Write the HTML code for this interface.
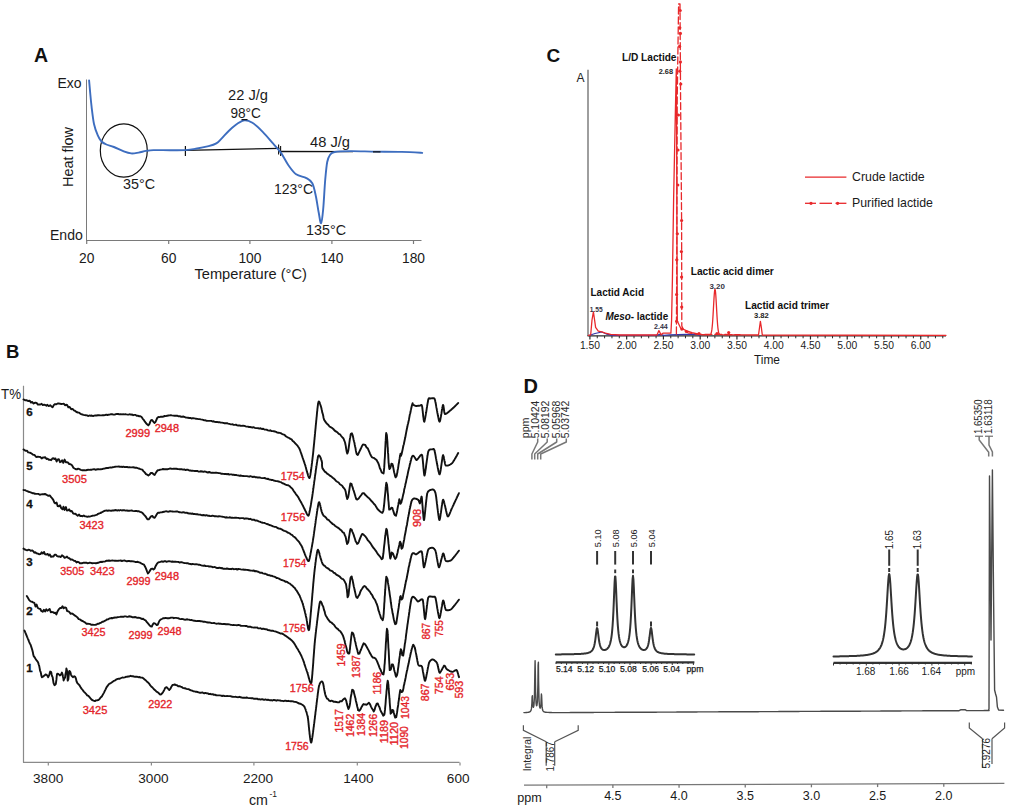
<!DOCTYPE html>
<html><head><meta charset="utf-8"><style>
html,body{margin:0;padding:0;background:#fff;width:1010px;height:808px;overflow:hidden}
svg{display:block}
text{font-family:"Liberation Sans",sans-serif}
</style></head><body>
<svg width="1010" height="808" viewBox="0 0 1010 808">
<rect width="1010" height="808" fill="#fff"/>
<text x="34" y="62.3" font-size="19.5" text-anchor="start" fill="#111" font-weight="bold" >A</text>
<line x1="86.5" y1="79.5" x2="86.5" y2="240.5" stroke="#7a7a7a" stroke-width="1" />
<line x1="86" y1="240.5" x2="421.5" y2="240.5" stroke="#7a7a7a" stroke-width="1" />
<line x1="86.7" y1="240.5" x2="86.7" y2="244" stroke="#7a7a7a" stroke-width="1.2" />
<line x1="168.7" y1="240.5" x2="168.7" y2="244" stroke="#7a7a7a" stroke-width="1.2" />
<line x1="249.9" y1="240.5" x2="249.9" y2="244" stroke="#7a7a7a" stroke-width="1.2" />
<line x1="331.9" y1="240.5" x2="331.9" y2="244" stroke="#7a7a7a" stroke-width="1.2" />
<line x1="413.5" y1="240.5" x2="413.5" y2="244" stroke="#7a7a7a" stroke-width="1.2" />
<text x="86.7" y="263.2" font-size="13.8" text-anchor="middle" fill="#1a1a1a" font-weight="normal" >20</text>
<text x="168.7" y="263.2" font-size="13.8" text-anchor="middle" fill="#1a1a1a" font-weight="normal" >60</text>
<text x="249.9" y="263.2" font-size="13.8" text-anchor="middle" fill="#1a1a1a" font-weight="normal" >100</text>
<text x="331.9" y="263.2" font-size="13.8" text-anchor="middle" fill="#1a1a1a" font-weight="normal" >140</text>
<text x="413.5" y="263.2" font-size="13.8" text-anchor="middle" fill="#1a1a1a" font-weight="normal" >180</text>
<text x="250.7" y="279" font-size="14.2" text-anchor="middle" fill="#1a1a1a" font-weight="normal" textLength="112.5" lengthAdjust="spacingAndGlyphs" >Temperature (°C)</text>
<text x="81.5" y="88" font-size="14" text-anchor="end" fill="#1a1a1a" font-weight="normal" textLength="24" lengthAdjust="spacingAndGlyphs" >Exo</text>
<text x="82.8" y="239.6" font-size="14" text-anchor="end" fill="#1a1a1a" font-weight="normal" textLength="32.8" lengthAdjust="spacingAndGlyphs" >Endo</text>
<text x="72.8" y="157" font-size="14.2" text-anchor="middle" fill="#1a1a1a" font-weight="normal" textLength="60" lengthAdjust="spacingAndGlyphs" transform="rotate(-90 72.8 157)" >Heat flow</text>
<text x="248" y="99.5" font-size="14" text-anchor="middle" fill="#1a1a1a" font-weight="normal" textLength="40" lengthAdjust="spacingAndGlyphs" >22 J/g</text>
<text x="245.7" y="117.6" font-size="14" text-anchor="middle" fill="#1a1a1a" font-weight="normal" textLength="30.5" lengthAdjust="spacingAndGlyphs" >98°C</text>
<text x="330" y="146.7" font-size="14" text-anchor="middle" fill="#1a1a1a" font-weight="normal" textLength="40" lengthAdjust="spacingAndGlyphs" >48 J/g</text>
<text x="293.5" y="193.5" font-size="14" text-anchor="middle" fill="#1a1a1a" font-weight="normal" textLength="39" lengthAdjust="spacingAndGlyphs" >123°C</text>
<text x="139" y="188.5" font-size="14" text-anchor="middle" fill="#1a1a1a" font-weight="normal" textLength="32" lengthAdjust="spacingAndGlyphs" >35°C</text>
<text x="326" y="234.7" font-size="14" text-anchor="middle" fill="#1a1a1a" font-weight="normal" textLength="40" lengthAdjust="spacingAndGlyphs" >135°C</text>
<ellipse cx="123.8" cy="150.5" rx="23.5" ry="26.6" fill="none" stroke="#111" stroke-width="1.2"/>
<line x1="185.4" y1="150.3" x2="279.5" y2="148.3" stroke="#111" stroke-width="1.3" />
<line x1="279.5" y1="151.5" x2="353" y2="151.6" stroke="#111" stroke-width="1.3" />
<line x1="185.4" y1="146" x2="185.4" y2="156" stroke="#111" stroke-width="1.2" />
<line x1="278.6" y1="144.5" x2="278.6" y2="154.5" stroke="#111" stroke-width="1.1" />
<line x1="280.6" y1="146" x2="280.6" y2="156" stroke="#111" stroke-width="1.1" />
<path d="M89.1,80.5 C89.3,82.8 89.9,89.6 90.3,94.0 C90.7,98.4 91.0,101.8 91.6,106.8 C92.2,111.8 93.0,119.2 94.0,124.0 C95.0,128.8 96.5,132.4 97.8,135.3 C99.0,138.2 100.1,140.0 101.5,141.5 C102.9,143.0 104.3,143.6 106.4,144.5 C108.5,145.4 111.0,145.8 113.9,147.0 C116.8,148.2 120.9,150.3 123.8,151.4 C126.7,152.5 128.7,153.2 131.2,153.4 C133.7,153.6 136.1,153.0 138.6,152.6 C141.1,152.2 143.5,151.3 146.0,150.9 C148.5,150.5 149.5,150.2 153.5,150.1 C157.5,150.0 164.7,150.2 170.0,150.2 C175.3,150.2 181.3,150.3 185.6,150.1 C189.9,149.9 191.9,149.5 195.7,148.8 C199.5,148.2 205.2,147.1 208.6,146.2 C212.0,145.3 214.2,144.7 216.3,143.4 C218.5,142.1 219.3,140.8 221.5,138.6 C223.7,136.4 226.6,132.9 229.2,130.5 C231.8,128.1 234.3,125.7 236.9,124.0 C239.5,122.3 242.0,120.4 244.6,120.2 C247.2,120.0 249.4,120.9 252.4,122.8 C255.4,124.7 259.3,128.4 262.7,131.8 C266.1,135.2 270.0,140.0 273.0,143.4 C276.0,146.8 278.1,148.8 280.7,152.4 C283.3,156.0 285.8,161.6 288.4,165.2 C291.0,168.8 293.1,172.0 296.1,174.2 C299.1,176.3 303.7,176.6 306.4,178.1 C309.1,179.6 310.7,180.3 312.3,183.3 C313.9,186.3 314.8,191.2 315.8,196.0 C316.9,200.8 317.7,207.5 318.6,212.0 C319.5,216.5 320.3,223.7 321.1,223.2 C321.9,222.7 322.5,216.2 323.2,209.0 C323.9,201.8 324.5,187.8 325.2,180.0 C325.9,172.2 326.4,166.2 327.2,162.0 C328.0,157.8 328.8,156.7 330.0,155.0 C331.2,153.3 331.3,152.7 334.7,152.0 C338.1,151.3 343.3,151.2 350.2,151.1 C357.1,151.0 367.3,151.5 375.9,151.6 C384.5,151.7 394.0,151.7 401.7,151.9 C409.4,152.1 418.8,152.7 422.2,152.9" fill="none" stroke="#3d6dbf" stroke-width="1.9" stroke-linejoin="round" stroke-linecap="round" />
<line x1="241.5" y1="119.6" x2="247.5" y2="119.6" stroke="#111" stroke-width="1.2" />
<line x1="373" y1="151.8" x2="380.5" y2="151.9" stroke="#111" stroke-width="1.3" />
<text x="546.5" y="61.5" font-size="19" text-anchor="start" fill="#111" font-weight="bold" >C</text>
<line x1="588" y1="69.8" x2="588" y2="336" stroke="#6a6a6a" stroke-width="1.3" />
<text x="580.5" y="81.8" font-size="12" text-anchor="middle" fill="#222" font-weight="normal" >A</text>
<line x1="587.5" y1="335.8" x2="946" y2="335.8" stroke="#2a2a2a" stroke-width="1.3" />
<line x1="589.9" y1="335.8" x2="589.9" y2="339.5" stroke="#2a2a2a" stroke-width="1.2" />
<text x="589.9" y="348.8" font-size="10.3" text-anchor="middle" fill="#1a1a1a" font-weight="normal" >1.50</text>
<line x1="626.66" y1="335.8" x2="626.66" y2="339.5" stroke="#2a2a2a" stroke-width="1.2" />
<text x="626.66" y="348.8" font-size="10.3" text-anchor="middle" fill="#1a1a1a" font-weight="normal" >2.00</text>
<line x1="663.42" y1="335.8" x2="663.42" y2="339.5" stroke="#2a2a2a" stroke-width="1.2" />
<text x="663.42" y="348.8" font-size="10.3" text-anchor="middle" fill="#1a1a1a" font-weight="normal" >2.50</text>
<line x1="700.18" y1="335.8" x2="700.18" y2="339.5" stroke="#2a2a2a" stroke-width="1.2" />
<text x="700.18" y="348.8" font-size="10.3" text-anchor="middle" fill="#1a1a1a" font-weight="normal" >3.00</text>
<line x1="736.9399999999999" y1="335.8" x2="736.9399999999999" y2="339.5" stroke="#2a2a2a" stroke-width="1.2" />
<text x="736.9399999999999" y="348.8" font-size="10.3" text-anchor="middle" fill="#1a1a1a" font-weight="normal" >3.50</text>
<line x1="773.6999999999999" y1="335.8" x2="773.6999999999999" y2="339.5" stroke="#2a2a2a" stroke-width="1.2" />
<text x="773.6999999999999" y="348.8" font-size="10.3" text-anchor="middle" fill="#1a1a1a" font-weight="normal" >4.00</text>
<line x1="810.46" y1="335.8" x2="810.46" y2="339.5" stroke="#2a2a2a" stroke-width="1.2" />
<text x="810.46" y="348.8" font-size="10.3" text-anchor="middle" fill="#1a1a1a" font-weight="normal" >4.50</text>
<line x1="847.22" y1="335.8" x2="847.22" y2="339.5" stroke="#2a2a2a" stroke-width="1.2" />
<text x="847.22" y="348.8" font-size="10.3" text-anchor="middle" fill="#1a1a1a" font-weight="normal" >5.00</text>
<line x1="883.98" y1="335.8" x2="883.98" y2="339.5" stroke="#2a2a2a" stroke-width="1.2" />
<text x="883.98" y="348.8" font-size="10.3" text-anchor="middle" fill="#1a1a1a" font-weight="normal" >5.50</text>
<line x1="920.74" y1="335.8" x2="920.74" y2="339.5" stroke="#2a2a2a" stroke-width="1.2" />
<text x="920.74" y="348.8" font-size="10.3" text-anchor="middle" fill="#1a1a1a" font-weight="normal" >6.00</text>
<line x1="597.252" y1="335.8" x2="597.252" y2="338.3" stroke="#2a2a2a" stroke-width="1" />
<line x1="604.6039999999999" y1="335.8" x2="604.6039999999999" y2="338.3" stroke="#2a2a2a" stroke-width="1" />
<line x1="611.956" y1="335.8" x2="611.956" y2="338.3" stroke="#2a2a2a" stroke-width="1" />
<line x1="619.308" y1="335.8" x2="619.308" y2="338.3" stroke="#2a2a2a" stroke-width="1" />
<line x1="634.012" y1="335.8" x2="634.012" y2="338.3" stroke="#2a2a2a" stroke-width="1" />
<line x1="641.364" y1="335.8" x2="641.364" y2="338.3" stroke="#2a2a2a" stroke-width="1" />
<line x1="648.716" y1="335.8" x2="648.716" y2="338.3" stroke="#2a2a2a" stroke-width="1" />
<line x1="656.068" y1="335.8" x2="656.068" y2="338.3" stroke="#2a2a2a" stroke-width="1" />
<line x1="670.7719999999999" y1="335.8" x2="670.7719999999999" y2="338.3" stroke="#2a2a2a" stroke-width="1" />
<line x1="678.124" y1="335.8" x2="678.124" y2="338.3" stroke="#2a2a2a" stroke-width="1" />
<line x1="685.476" y1="335.8" x2="685.476" y2="338.3" stroke="#2a2a2a" stroke-width="1" />
<line x1="692.828" y1="335.8" x2="692.828" y2="338.3" stroke="#2a2a2a" stroke-width="1" />
<line x1="707.5319999999999" y1="335.8" x2="707.5319999999999" y2="338.3" stroke="#2a2a2a" stroke-width="1" />
<line x1="714.884" y1="335.8" x2="714.884" y2="338.3" stroke="#2a2a2a" stroke-width="1" />
<line x1="722.236" y1="335.8" x2="722.236" y2="338.3" stroke="#2a2a2a" stroke-width="1" />
<line x1="729.588" y1="335.8" x2="729.588" y2="338.3" stroke="#2a2a2a" stroke-width="1" />
<line x1="744.2919999999999" y1="335.8" x2="744.2919999999999" y2="338.3" stroke="#2a2a2a" stroke-width="1" />
<line x1="751.644" y1="335.8" x2="751.644" y2="338.3" stroke="#2a2a2a" stroke-width="1" />
<line x1="758.996" y1="335.8" x2="758.996" y2="338.3" stroke="#2a2a2a" stroke-width="1" />
<line x1="766.348" y1="335.8" x2="766.348" y2="338.3" stroke="#2a2a2a" stroke-width="1" />
<line x1="781.0519999999999" y1="335.8" x2="781.0519999999999" y2="338.3" stroke="#2a2a2a" stroke-width="1" />
<line x1="788.404" y1="335.8" x2="788.404" y2="338.3" stroke="#2a2a2a" stroke-width="1" />
<line x1="795.756" y1="335.8" x2="795.756" y2="338.3" stroke="#2a2a2a" stroke-width="1" />
<line x1="803.108" y1="335.8" x2="803.108" y2="338.3" stroke="#2a2a2a" stroke-width="1" />
<line x1="817.8119999999999" y1="335.8" x2="817.8119999999999" y2="338.3" stroke="#2a2a2a" stroke-width="1" />
<line x1="825.164" y1="335.8" x2="825.164" y2="338.3" stroke="#2a2a2a" stroke-width="1" />
<line x1="832.516" y1="335.8" x2="832.516" y2="338.3" stroke="#2a2a2a" stroke-width="1" />
<line x1="839.8679999999999" y1="335.8" x2="839.8679999999999" y2="338.3" stroke="#2a2a2a" stroke-width="1" />
<line x1="854.5719999999999" y1="335.8" x2="854.5719999999999" y2="338.3" stroke="#2a2a2a" stroke-width="1" />
<line x1="861.924" y1="335.8" x2="861.924" y2="338.3" stroke="#2a2a2a" stroke-width="1" />
<line x1="869.276" y1="335.8" x2="869.276" y2="338.3" stroke="#2a2a2a" stroke-width="1" />
<line x1="876.6279999999999" y1="335.8" x2="876.6279999999999" y2="338.3" stroke="#2a2a2a" stroke-width="1" />
<line x1="891.3319999999999" y1="335.8" x2="891.3319999999999" y2="338.3" stroke="#2a2a2a" stroke-width="1" />
<line x1="898.684" y1="335.8" x2="898.684" y2="338.3" stroke="#2a2a2a" stroke-width="1" />
<line x1="906.036" y1="335.8" x2="906.036" y2="338.3" stroke="#2a2a2a" stroke-width="1" />
<line x1="913.3879999999999" y1="335.8" x2="913.3879999999999" y2="338.3" stroke="#2a2a2a" stroke-width="1" />
<line x1="928.0919999999999" y1="335.8" x2="928.0919999999999" y2="338.3" stroke="#2a2a2a" stroke-width="1" />
<line x1="935.444" y1="335.8" x2="935.444" y2="338.3" stroke="#2a2a2a" stroke-width="1" />
<line x1="942.796" y1="335.8" x2="942.796" y2="338.3" stroke="#2a2a2a" stroke-width="1" />
<text x="767" y="363.9" font-size="12.5" text-anchor="middle" fill="#1a1a1a" font-weight="normal" textLength="26" lengthAdjust="spacingAndGlyphs" >Time</text>
<polyline points="589.0,335.5 595.0,333.5 601.8,332.0 606.0,333.8 612.0,335.3 656.0,335.3 660.0,334.3 664.0,335.3 669.5,334.8 695.5,334.2 700.0,335.3" fill="none" stroke="#3636a8" stroke-width="1.2" stroke-linejoin="round" stroke-linecap="round" />
<polyline points="588.5,335.3 590.7,334.8 592.0,320.0 593.4,311.8 594.6,320.0 595.6,327.4 598.3,331.2 601.8,331.9 605.4,333.2 610.7,334.3 619.7,335.0 655.3,335.0 657.1,334.8 658.9,330.6 661.1,334.8 662.9,333.2 670.9,333.2 671.6,320.0 672.4,280.0 673.6,200.0 675.2,120.0 676.3,69.0 676.6,130.0 677.0,250.0 677.3,321.0 680.7,328.2 686.8,330.8 692.0,332.6 700.0,334.5 708.0,334.8 708.3,334.8 708.6,334.8 708.9,334.8 709.2,334.8 709.5,334.7 709.8,334.7 710.1,334.6 710.4,334.4 710.7,334.1 711.0,333.5 711.3,332.6 711.6,331.3 711.9,329.4 712.2,326.8 712.5,323.5 712.8,319.3 713.1,314.4 713.4,309.0 713.7,303.5 714.0,298.4 714.3,294.0 714.6,290.9 714.9,289.4 715.2,289.7 715.5,291.8 715.8,295.3 716.1,300.0 716.4,305.4 716.7,310.9 717.0,316.1 717.3,320.8 717.6,324.7 717.9,327.8 718.2,330.1 718.5,331.8 718.8,333.0 719.1,333.7 719.4,334.2 719.7,334.5 720.0,334.6 758.5,335.0 759.6,327.0 760.4,321.3 761.3,327.0 762.3,335.0 946.0,335.3" fill="none" stroke="#e8282b" stroke-width="1.3" stroke-linejoin="round" stroke-linecap="round" />
<polyline points="676.4,334.0 676.8,250.0 677.2,100.0 678.6,4.0 680.0,4.0 680.6,100.0 681.6,220.0 681.8,326.0 684.0,330.5 688.0,332.8 699.0,334.3 740.0,334.6" fill="none" stroke="#e8282b" stroke-width="1.3" stroke-linejoin="round" stroke-linecap="round" stroke-dasharray="7,3"/>
<circle cx="677.3" cy="233.8" r="1.6" fill="#e8282b"/>
<circle cx="676.8" cy="259.8" r="1.6" fill="#e8282b"/>
<circle cx="676.6" cy="294.5" r="1.6" fill="#e8282b"/>
<circle cx="676.6" cy="321.3" r="1.6" fill="#e8282b"/>
<circle cx="681.6" cy="220.5" r="1.6" fill="#e8282b"/>
<circle cx="681.4" cy="251.6" r="1.6" fill="#e8282b"/>
<circle cx="681.6" cy="277.1" r="1.6" fill="#e8282b"/>
<circle cx="681.7" cy="307.1" r="1.6" fill="#e8282b"/>
<circle cx="681.8" cy="329.1" r="1.6" fill="#e8282b"/>
<circle cx="686.4" cy="331.5" r="1.6" fill="#e8282b"/>
<circle cx="699" cy="333.6" r="1.6" fill="#e8282b"/>
<circle cx="717" cy="333.6" r="1.6" fill="#e8282b"/>
<circle cx="728.7" cy="332.6" r="1.6" fill="#e8282b"/>
<circle cx="680.2" cy="10.5" r="1.6" fill="#e8282b"/>
<circle cx="679.8" cy="27.8" r="1.6" fill="#e8282b"/>
<circle cx="680.4" cy="33.4" r="1.6" fill="#e8282b"/>
<circle cx="679.6" cy="46.4" r="1.6" fill="#e8282b"/>
<circle cx="680.4" cy="61.9" r="1.6" fill="#e8282b"/>
<circle cx="679.8" cy="71.2" r="1.6" fill="#e8282b"/>
<circle cx="680.8" cy="84" r="1.6" fill="#e8282b"/>
<circle cx="678.4" cy="115" r="1.6" fill="#e8282b"/>
<circle cx="678.0" cy="150" r="1.6" fill="#e8282b"/>
<circle cx="677.8" cy="185" r="1.6" fill="#e8282b"/>
<text x="676.5" y="61.2" font-size="11.5" text-anchor="end" fill="#111" font-weight="bold" textLength="54.5" lengthAdjust="spacingAndGlyphs" >L/D Lactide</text>
<text x="673" y="74.3" font-size="7.4" text-anchor="end" fill="#222" font-weight="bold" textLength="14.3" lengthAdjust="spacingAndGlyphs" >2.68</text>
<text x="590.5" y="295.6" font-size="10.3" text-anchor="start" fill="#111" font-weight="bold" textLength="53.5" lengthAdjust="spacingAndGlyphs" >Lactid Acid</text>
<text x="589.8" y="311.6" font-size="7.4" text-anchor="start" fill="#334" font-weight="bold" textLength="12.9" lengthAdjust="spacingAndGlyphs" >1.55</text>
<text x="605.4" y="319.5" font-size="10.3" text-anchor="start" fill="#111" font-weight="bold" textLength="62.8" lengthAdjust="spacingAndGlyphs" ><tspan font-style="italic">Meso</tspan>- lactide</text>
<text x="654" y="328.9" font-size="7.4" text-anchor="start" fill="#334" font-weight="bold" textLength="13.8" lengthAdjust="spacingAndGlyphs" >2.44</text>
<text x="690.7" y="275.2" font-size="10.3" text-anchor="start" fill="#111" font-weight="bold" textLength="83.1" lengthAdjust="spacingAndGlyphs" >Lactic acid dimer</text>
<text x="709.4" y="288.5" font-size="7.4" text-anchor="start" fill="#334" font-weight="bold" textLength="15.5" lengthAdjust="spacingAndGlyphs" >3.20</text>
<text x="745" y="308.8" font-size="10.3" text-anchor="start" fill="#111" font-weight="bold" textLength="84.3" lengthAdjust="spacingAndGlyphs" >Lactid acid trimer</text>
<text x="754" y="318.4" font-size="7.4" text-anchor="start" fill="#222" font-weight="bold" textLength="14.8" lengthAdjust="spacingAndGlyphs" >3.82</text>
<line x1="805" y1="177.2" x2="846.4" y2="177.2" stroke="#e8282b" stroke-width="1.3" />
<text x="852" y="181.3" font-size="12.4" text-anchor="start" fill="#1a1a1a" font-weight="normal" textLength="72.7" lengthAdjust="spacingAndGlyphs" >Crude lactide</text>
<line x1="805" y1="203.3" x2="816" y2="203.3" stroke="#e8282b" stroke-width="1.3" />
<line x1="819.5" y1="203.3" x2="832" y2="203.3" stroke="#e8282b" stroke-width="1.3" />
<line x1="835.5" y1="203.3" x2="846.4" y2="203.3" stroke="#e8282b" stroke-width="1.3" />
<circle cx="811" cy="203.3" r="1.6" fill="#e8282b"/>
<circle cx="837.6" cy="203.3" r="1.6" fill="#e8282b"/>
<text x="852" y="207.3" font-size="12.4" text-anchor="start" fill="#1a1a1a" font-weight="normal" textLength="81" lengthAdjust="spacingAndGlyphs" >Purified lactide</text>
<text x="6" y="357.8" font-size="18.5" text-anchor="start" fill="#111" font-weight="bold" >B</text>
<line x1="23.5" y1="385.8" x2="23.5" y2="762.5" stroke="#8a8a8a" stroke-width="1.2" />
<line x1="23" y1="762.4" x2="459.5" y2="762.4" stroke="#8a8a8a" stroke-width="1.2" />
<line x1="48.3" y1="762.4" x2="48.3" y2="765.6" stroke="#8a8a8a" stroke-width="1.2" />
<text x="48.2" y="783.3" font-size="13.6" text-anchor="middle" fill="#1a1a1a" font-weight="normal" >3800</text>
<line x1="151.4" y1="762.4" x2="151.4" y2="765.6" stroke="#8a8a8a" stroke-width="1.2" />
<text x="153.4" y="783.3" font-size="13.6" text-anchor="middle" fill="#1a1a1a" font-weight="normal" >3000</text>
<line x1="253.9" y1="762.4" x2="253.9" y2="765.6" stroke="#8a8a8a" stroke-width="1.2" />
<text x="258" y="783.3" font-size="13.6" text-anchor="middle" fill="#1a1a1a" font-weight="normal" >2200</text>
<line x1="357.3" y1="762.4" x2="357.3" y2="765.6" stroke="#8a8a8a" stroke-width="1.2" />
<text x="358.4" y="783.3" font-size="13.6" text-anchor="middle" fill="#1a1a1a" font-weight="normal" >1400</text>
<line x1="460" y1="762.4" x2="460" y2="765.6" stroke="#8a8a8a" stroke-width="1.2" />
<text x="458.2" y="783.3" font-size="13.6" text-anchor="middle" fill="#1a1a1a" font-weight="normal" >600</text>
<text x="11" y="399.3" font-size="14.3" text-anchor="middle" fill="#1a1a1a" font-weight="normal" textLength="20" lengthAdjust="spacingAndGlyphs" >T%</text>
<text x="249" y="805" font-size="14" text-anchor="start" fill="#1a1a1a" font-weight="normal" textLength="19" lengthAdjust="spacingAndGlyphs" >cm</text>
<text x="269.5" y="797" font-size="8.5" text-anchor="start" fill="#1a1a1a" font-weight="normal" >-1</text>
<polyline points="23.5,399.4 23.7,399.5 23.9,399.5 25.0,400.2 26.3,400.1 27.4,400.8 28.6,401.0 29.8,400.8 31.0,402.6 32.3,401.9 33.4,403.6 34.5,403.0 35.5,402.6 36.8,403.2 37.9,404.6 39.3,404.5 40.4,404.5 41.6,403.8 42.8,405.1 44.1,404.6 45.2,405.0 46.4,405.7 47.4,404.8 48.7,406.1 50.2,405.2 51.4,406.4 52.6,407.3 53.9,404.9 55.0,404.1 56.4,404.3 57.7,403.5 58.9,403.4 60.1,403.8 61.5,404.0 62.7,403.9 63.9,403.7 65.0,405.3 66.0,404.8 67.1,405.0 68.3,407.2 69.7,407.0 71.2,409.2 72.6,408.9 73.9,410.3 75.2,410.9 76.5,412.0 78.0,412.5 79.1,412.6 80.2,413.7 81.2,414.2 82.3,414.4 83.3,414.9 84.7,415.1 85.7,415.2 86.9,415.4 88.4,416.0 89.5,415.5 90.7,415.7 91.8,415.5 93.1,416.1 94.2,415.7 95.4,415.4 96.5,415.5 97.9,415.2 99.0,415.3 100.2,415.4 101.7,415.4 102.8,415.1 103.9,415.2 105.0,415.1 106.2,414.6 107.4,415.0 108.5,414.7 109.6,414.6 111.0,414.2 112.0,414.1 113.3,414.6 114.7,414.6 115.8,414.1 117.0,414.0 118.2,414.0 119.4,414.4 120.7,414.1 121.9,414.4 123.1,414.3 124.3,414.4 125.4,414.2 126.4,414.4 127.7,414.6 128.7,414.6 130.0,414.2 131.0,414.8 132.1,414.4 133.2,415.2 134.4,414.9 135.6,414.9 136.7,415.7 137.8,415.7 139.2,416.3 140.4,416.2 141.6,417.0 142.6,418.6 143.7,419.8 144.9,421.7 145.9,423.0 147.1,424.3 148.3,425.4 149.5,423.9 150.3,421.6 151.1,420.2 152.1,420.0 153.3,421.6 154.4,422.9 155.5,422.0 156.2,420.3 157.2,418.0 158.4,417.0 159.6,417.1 160.9,416.7 162.4,416.7 163.5,416.5 164.7,416.0 165.9,416.1 167.2,415.7 168.4,415.5 169.6,415.4 170.8,415.2 171.8,415.4 173.3,415.6 174.6,415.8 175.7,415.6 177.1,415.7 178.6,416.4 179.7,416.1 180.8,416.7 182.0,416.8 183.1,416.5 184.3,416.9 185.6,417.5 186.8,417.6 188.0,417.8 189.2,418.0 190.4,417.9 191.5,418.5 192.6,418.1 193.7,418.3 194.7,418.4 196.1,418.8 197.3,418.9 198.3,419.1 199.5,419.1 200.8,419.4 202.2,419.6 203.2,419.9 204.3,420.4 205.4,420.3 206.6,420.8 207.7,420.9 208.9,420.9 210.1,420.9 211.3,420.9 212.5,421.5 213.6,421.3 214.8,421.9 215.9,422.0 217.0,421.9 218.0,422.2 219.5,422.2 220.7,422.6 221.9,422.6 223.2,422.9 224.5,423.2 226.0,423.1 227.1,423.2 228.1,423.6 229.2,423.9 230.4,424.2 231.5,424.4 232.6,424.3 233.7,424.9 234.8,424.9 235.9,424.6 236.9,425.3 238.3,425.5 239.6,425.4 240.6,425.8 241.7,425.9 243.0,425.6 244.5,425.9 245.6,426.4 246.7,426.6 247.8,426.6 249.0,427.0 250.2,427.0 251.4,427.3 252.6,427.5 253.7,427.2 254.9,427.9 256.1,428.1 257.2,428.1 258.2,428.2 259.2,428.6 260.6,428.3 261.8,429.0 263.2,428.8 264.4,429.5 265.9,429.6 266.9,429.8 268.0,430.4 269.2,430.7 270.3,430.3 271.5,431.1 272.7,431.1 273.8,431.3 274.9,431.5 276.0,431.8 277.1,432.6 278.5,432.7 279.7,432.9 280.7,433.1 281.8,433.8 283.1,434.4 284.6,434.9 285.6,436.1 286.7,436.8 287.7,437.4 289.1,438.0 290.4,438.9 291.6,439.4 292.7,441.0 293.7,441.6 294.9,443.0 296.0,444.1 297.2,445.3 298.2,446.8 299.2,448.2 299.9,449.8 300.1,450.4 300.3,450.8 300.5,451.3 300.6,451.8 300.8,452.3 301.0,452.9 301.2,453.4 301.4,454.0 301.6,454.6 301.8,455.2 302.0,455.8 302.2,456.4 302.4,457.0 302.6,457.6 302.8,458.1 303.0,458.7 303.2,459.3 303.4,459.9 303.6,460.4 303.8,460.9 303.9,461.5 304.1,461.9 304.3,462.4 304.4,462.8 304.5,463.3 304.7,463.6 304.8,464.0 304.9,464.3 305.0,464.7 305.2,465.1 305.3,465.6 305.5,466.1 305.6,466.7 305.8,467.3 306.0,467.9 306.1,468.6 306.3,469.3 306.5,470.0 306.7,470.7 306.9,471.4 307.1,472.0 307.3,472.7 307.5,473.4 307.7,474.0 307.9,474.7 308.0,475.2 308.2,475.8 308.4,476.3 308.6,476.7 308.7,477.1 308.9,477.5 309.0,477.7 309.2,477.9 309.3,478.0 309.4,478.1 309.5,478.0 309.6,477.9 309.6,477.8 309.7,477.6 309.7,477.5 309.8,477.3 309.9,477.0 309.9,476.7 310.0,476.4 310.1,476.1 310.2,475.7 310.2,475.4 310.3,475.0 310.4,474.5 310.5,474.1 310.5,473.6 310.6,473.1 310.7,472.6 310.8,472.1 310.9,471.5 310.9,471.0 311.0,470.4 311.1,469.8 311.2,469.3 311.3,468.7 311.3,468.0 311.4,467.4 311.5,466.8 311.6,466.2 311.7,465.5 311.7,464.9 311.8,464.3 311.9,463.6 312.0,463.0 312.1,462.3 312.1,461.7 312.2,461.1 312.3,460.5 312.4,459.8 312.4,459.2 312.5,458.6 312.6,458.0 312.6,457.4 312.7,456.8 312.8,456.3 312.8,455.7 312.9,455.2 312.9,455.0 313.0,454.7 313.0,454.4 313.0,454.1 313.1,453.8 313.1,453.5 313.1,453.2 313.2,452.8 313.2,452.4 313.2,452.1 313.3,451.7 313.3,451.2 313.4,450.8 313.4,450.4 313.4,449.9 313.5,449.5 313.5,449.0 313.6,448.5 313.6,448.0 313.7,447.5 313.7,447.0 313.8,446.5 313.8,446.0 313.9,445.4 313.9,444.9 314.0,444.3 314.1,443.8 314.1,443.2 314.2,442.6 314.2,442.0 314.3,441.4 314.3,440.8 314.4,440.2 314.5,439.6 314.5,439.0 314.6,438.4 314.6,437.7 314.7,437.1 314.8,436.5 314.8,435.8 314.9,435.2 314.9,434.5 315.0,433.9 315.1,433.2 315.1,432.6 315.2,431.9 315.2,431.3 315.3,430.6 315.4,430.0 315.4,429.3 315.5,428.6 315.6,428.0 315.6,427.3 315.7,426.7 315.7,426.0 315.8,425.4 315.9,424.7 315.9,424.1 316.0,423.4 316.1,422.8 316.1,422.2 316.2,421.5 316.2,420.9 316.3,420.3 316.4,419.7 316.4,419.1 316.5,418.5 316.5,417.9 316.6,417.3 316.7,416.7 316.7,416.1 316.8,415.5 316.8,415.0 316.9,414.4 316.9,413.9 317.0,413.3 317.0,412.8 317.1,412.3 317.1,411.8 317.2,411.3 317.3,410.8 317.3,410.3 317.3,409.9 317.4,409.4 317.4,409.0 317.5,408.5 317.5,408.1 317.6,407.7 317.6,407.3 317.7,407.0 317.7,406.6 317.7,406.3 317.8,405.9 317.8,405.6 317.9,405.3 317.9,405.0 317.9,404.8 318.0,404.5 318.0,404.3 318.0,404.0 318.0,403.8 318.1,403.7 318.1,403.5 318.5,401.9 318.9,401.4 319.3,401.8 319.7,402.7 320.1,404.0 320.5,405.2 320.8,406.2 320.9,406.4 321.0,406.7 321.1,407.0 321.2,407.4 321.3,407.8 321.4,408.3 321.5,408.8 321.6,409.3 321.8,409.9 321.9,410.5 322.3,412.7 322.8,414.0 323.2,415.7 323.6,418.0 324.1,419.8 325.0,421.1 326.2,422.9 327.3,424.0 328.4,425.0 329.5,426.5 330.6,427.1 331.8,427.8 333.3,429.0 334.7,430.6 336.2,431.6 337.6,432.6 338.8,433.9 340.0,434.3 341.2,436.0 342.2,437.2 343.5,438.5 344.4,440.8 345.1,442.8 345.4,444.3 345.8,446.1 346.1,448.3 346.5,450.7 346.8,452.1 347.3,453.6 347.9,452.1 348.3,450.6 348.6,448.4 348.8,447.0 349.1,444.9 349.4,442.5 349.7,440.4 350.0,438.2 350.3,437.2 350.6,434.8 350.9,433.8 351.9,433.3 352.5,434.8 353.1,437.1 353.6,439.7 354.0,441.3 354.4,442.7 354.7,444.5 355.1,446.5 355.5,448.1 355.9,450.9 356.3,452.6 356.8,454.2 357.8,455.0 358.7,453.2 359.5,451.4 360.4,449.5 361.3,447.7 362.0,446.0 363.0,444.5 364.0,444.6 365.3,445.0 366.5,447.4 367.7,448.2 368.5,450.1 369.3,451.9 370.1,453.8 370.9,455.5 371.8,457.1 372.8,457.6 374.3,458.2 375.3,459.1 376.6,460.0 377.5,461.8 378.2,462.9 379.0,465.1 379.8,468.0 380.7,469.7 381.5,472.0 382.5,473.0 383.5,473.5 383.8,471.9 384.0,469.7 384.2,467.9 384.3,466.0 384.4,464.4 384.5,462.8 384.6,460.3 384.8,458.0 384.9,456.7 385.0,454.2 385.1,452.1 385.2,449.5 385.3,447.8 385.4,445.7 385.5,443.7 385.6,441.5 385.7,440.4 385.8,438.7 385.9,436.9 386.0,434.8 386.2,433.0 386.8,434.8 387.0,436.5 387.1,438.3 387.2,439.7 387.4,441.6 387.5,443.6 387.6,446.3 387.8,447.8 387.9,450.7 388.0,452.9 388.2,454.4 388.3,457.1 388.4,459.0 388.5,460.5 388.6,462.8 388.8,463.7 388.9,465.7 389.1,467.4 389.4,469.0 390.3,468.1 390.9,465.9 391.4,463.7 392.5,464.2 392.8,465.6 393.2,467.2 393.7,469.9 394.1,472.2 394.6,473.7 395.0,475.9 395.6,477.3 396.6,476.0 397.0,473.8 397.3,472.8 397.6,470.4 398.0,468.7 398.3,466.6 398.6,464.3 399.0,462.5 399.3,460.1 399.6,458.7 399.9,456.6 400.2,455.3 400.5,453.6 400.9,455.9 401.6,454.1 402.0,452.3 402.4,450.5 402.7,449.1 403.1,447.0 403.4,445.5 403.8,444.5 404.1,442.8 404.5,441.0 404.9,439.0 405.3,437.3 405.7,435.0 406.1,432.9 406.5,430.8 406.9,428.7 407.3,427.1 407.7,424.8 408.1,423.5 408.5,421.5 408.9,419.9 409.2,418.2 409.6,415.8 409.9,414.1 410.0,414.0 410.2,413.5 410.3,413.0 410.4,412.5 410.5,412.0 410.6,411.6 410.7,411.1 410.7,410.7 410.8,410.3 410.9,409.8 411.0,409.5 411.1,409.1 411.2,408.7 411.2,408.4 411.3,408.0 411.4,407.7 411.4,407.4 411.5,407.1 411.6,406.9 411.6,406.6 411.7,406.4 411.7,406.2 411.8,406.0 411.8,405.8 412.6,403.2 412.8,403.9 413.0,404.8 413.3,404.9 413.8,405.1 414.4,405.4 415.0,405.7 415.5,405.9 416.0,406.0 416.4,406.0 416.9,406.0 417.4,405.9 418.0,405.8 418.6,405.8 419.2,405.7 419.7,405.6 420.0,405.6 420.5,405.4 421.1,405.0 421.6,405.0 422.0,405.8 422.0,406.0 422.1,406.3 422.1,406.6 422.2,407.0 422.3,407.5 422.3,408.0 422.4,408.5 422.5,409.1 422.5,409.7 422.6,410.4 422.7,411.1 422.8,411.8 422.8,412.5 422.9,413.2 423.0,413.9 423.1,414.7 423.1,415.4 423.2,416.1 423.3,416.8 423.4,417.4 423.5,418.1 423.6,418.7 423.6,419.2 423.7,419.7 423.8,420.2 423.9,420.6 424.0,421.0 424.0,421.3 424.1,421.5 424.2,421.7 424.2,421.7 424.3,421.7 424.3,421.6 424.4,421.5 424.5,421.3 424.5,421.1 424.6,420.8 424.7,420.5 424.7,420.2 424.8,419.8 424.9,419.4 425.0,418.9 425.1,418.4 425.2,417.9 425.3,417.4 425.4,416.8 425.5,416.2 425.6,415.6 425.7,415.0 425.8,414.3 425.9,413.7 426.0,413.0 426.2,412.3 426.3,411.6 426.4,410.9 426.5,410.3 426.6,409.6 426.7,408.9 426.8,408.2 426.9,407.5 427.0,406.9 427.1,406.2 427.2,405.6 427.3,405.0 427.4,404.4 427.5,403.8 427.6,403.2 427.7,402.7 427.8,402.2 427.9,401.7 428.0,401.3 428.0,400.9 428.1,400.5 428.1,400.2 428.2,399.9 428.3,399.7 428.3,399.5 428.9,398.2 429.5,398.3 430.0,398.6 430.4,398.5 430.9,398.4 431.6,398.3 432.2,398.2 432.8,398.2 433.2,398.2 433.5,398.2 433.9,398.2 434.2,398.3 434.6,398.8 435.0,400.0 435.0,400.2 435.1,400.4 435.2,400.7 435.2,401.1 435.3,401.4 435.4,401.9 435.5,402.3 435.6,402.8 435.7,403.3 435.8,403.8 435.9,404.4 436.0,405.0 436.1,405.6 436.2,406.2 436.3,406.9 436.4,407.5 436.6,408.2 436.7,408.9 436.8,409.5 436.9,410.2 437.1,410.9 437.2,411.6 437.3,412.3 437.4,413.0 437.6,413.6 437.7,414.3 437.8,414.9 437.9,415.6 438.1,416.2 438.2,416.8 438.3,417.4 438.4,417.9 438.5,418.4 438.6,418.9 438.7,419.4 438.8,419.8 438.9,420.2 439.0,420.6 439.1,420.9 439.2,421.1 439.3,421.3 439.4,421.5 439.4,421.6 439.5,421.7 439.6,421.7 439.7,421.6 439.8,421.5 439.9,421.2 440.0,420.9 440.1,420.6 440.2,420.2 440.3,419.7 440.4,419.2 440.5,418.6 440.6,418.0 440.7,417.4 440.9,416.7 441.0,416.0 441.1,415.3 441.2,414.6 441.4,413.9 441.5,413.1 441.6,412.4 441.7,411.7 441.8,411.0 441.9,410.3 442.1,409.6 442.2,409.0 442.3,408.3 442.4,407.8 442.5,407.2 442.6,406.7 442.7,406.3 442.7,405.9 442.8,405.6 442.9,405.3 442.9,405.1 443.0,405.0 443.1,405.0 443.2,405.1 443.3,405.3 443.4,405.7 443.5,406.3 443.6,406.9 443.7,407.5 443.8,408.3 443.9,409.0 444.0,409.8 444.1,410.6 444.2,411.3 444.3,412.0 444.4,412.6 444.6,413.1 444.7,413.5 444.8,413.8 445.0,414.0 445.2,414.0 445.5,414.0 445.8,413.8 446.2,413.6 446.6,413.4 447.1,413.1 447.6,412.7 448.1,412.3 448.6,411.9 449.1,411.5 449.6,411.1 450.1,410.6 450.6,410.2 451.0,409.9 451.4,409.5 451.7,409.2 452.0,409.0 452.3,408.8 452.6,408.5 453.0,408.1 453.4,407.8 453.8,407.3 454.2,406.9 454.7,406.5 455.2,406.0 455.6,405.6 456.1,405.1 456.5,404.7 456.9,404.3 457.2,404.0 457.6,403.6 457.8,403.4 458.0,403.1 458.2,403.0" fill="none" stroke="#111" stroke-width="1.9" stroke-linejoin="round" stroke-linecap="round" />
<polyline points="23.5,449.4 23.7,449.5 24.9,450.4 25.9,450.9 27.1,450.7 28.2,452.4 29.6,452.6 30.7,453.0 32.2,454.0 33.2,454.9 34.6,454.9 35.7,456.6 36.8,457.0 37.9,456.7 39.0,456.9 40.2,457.0 41.7,458.4 42.9,457.4 44.0,457.7 45.1,457.2 46.5,459.0 47.6,458.6 48.6,459.7 49.7,459.6 51.1,460.2 52.2,458.7 53.3,458.2 54.4,459.1 55.4,458.4 56.6,461.5 57.8,459.4 58.8,459.2 60.0,462.2 61.0,461.7 62.1,460.2 63.3,462.8 64.6,459.6 65.8,462.2 66.8,462.2 67.8,462.4 69.2,464.0 70.6,464.2 72.0,465.2 73.4,467.8 74.5,468.5 75.8,469.2 77.0,469.3 78.1,468.7 79.4,469.2 80.8,469.9 81.9,470.2 83.0,470.2 84.4,470.3 85.8,470.4 86.9,470.0 88.2,469.8 89.3,469.9 90.3,469.8 91.8,469.7 92.9,469.4 94.1,469.2 95.3,469.7 96.5,469.5 97.7,469.3 98.7,469.3 99.8,469.4 100.9,469.2 102.3,469.1 103.4,468.6 104.5,468.6 105.6,468.2 106.8,468.0 108.1,468.0 109.3,467.7 110.5,467.4 111.6,467.6 112.7,467.2 113.8,467.1 115.2,466.7 116.3,466.6 117.4,466.6 118.9,466.5 119.9,466.9 121.1,466.7 122.2,467.0 123.5,466.6 124.7,467.1 126.0,467.0 127.2,467.0 128.4,467.4 129.5,467.2 130.6,467.4 132.0,467.4 133.1,467.3 134.2,467.5 135.3,467.7 136.4,467.7 137.6,468.2 138.8,468.5 139.8,468.9 141.3,469.4 142.3,469.7 143.4,471.1 144.7,472.4 146.0,474.1 147.2,474.7 148.4,475.5 149.6,474.6 150.9,472.9 152.2,473.0 153.6,474.3 154.7,474.9 155.8,472.9 156.7,471.5 157.9,470.2 159.2,470.0 160.4,469.7 161.9,469.3 162.9,469.0 164.1,469.2 165.3,469.1 166.5,469.2 167.8,469.2 169.0,468.8 170.2,468.4 171.3,468.8 172.4,468.9 173.6,468.7 174.9,468.7 176.2,468.7 177.6,469.0 178.6,469.1 179.7,469.3 180.8,469.2 182.0,469.3 183.1,469.7 184.3,469.4 185.6,470.1 186.8,469.6 188.0,469.8 189.2,470.5 190.4,470.5 191.5,470.8 192.6,470.7 193.7,470.9 194.7,471.0 196.1,471.0 197.3,470.9 198.3,471.5 199.5,471.6 200.8,471.3 202.3,471.5 203.4,471.8 204.5,471.5 205.6,471.6 206.8,472.3 208.0,472.5 209.2,472.0 210.4,472.5 211.6,472.9 212.8,472.6 214.0,472.9 215.2,472.7 216.3,472.7 217.4,472.9 218.4,473.0 219.8,473.1 221.1,473.7 222.2,473.8 223.2,473.9 224.5,474.0 226.0,473.9 227.1,474.3 228.1,473.9 229.2,474.6 230.4,474.4 231.5,474.4 232.6,474.8 233.7,474.8 234.8,475.0 235.9,474.9 236.9,475.2 238.3,475.4 239.6,475.9 240.6,475.5 241.8,475.9 243.1,476.0 244.6,476.1 245.7,476.1 246.8,476.1 248.0,476.4 249.2,476.7 250.4,476.2 251.7,476.6 252.9,477.0 254.1,476.6 255.3,477.2 256.5,477.2 257.6,477.5 258.6,477.5 259.6,477.4 261.0,477.8 262.2,478.1 263.2,478.1 264.4,478.0 265.9,478.5 267.0,479.0 268.1,478.8 269.2,479.6 270.4,479.6 271.6,480.0 272.8,480.0 273.9,480.6 275.0,480.8 276.1,481.1 277.2,481.1 278.6,481.5 279.8,481.9 281.0,482.2 282.5,483.3 283.6,483.5 284.6,484.1 285.7,484.7 286.8,485.1 288.2,485.3 289.4,486.0 290.6,487.2 291.6,488.0 292.8,489.4 293.9,491.2 294.9,492.6 296.0,494.3 297.2,495.7 298.4,497.4 299.3,499.3 300.2,500.7 300.4,501.2 300.7,501.6 300.9,502.0 301.1,502.4 301.3,502.7 301.5,503.0 301.7,503.4 301.9,503.8 302.1,504.2 302.4,504.7 302.6,505.2 302.9,505.8 303.2,506.3 303.5,506.9 303.7,507.5 304.0,508.0 304.3,508.6 304.5,509.1 304.8,509.6 305.0,510.0 305.2,510.4 305.3,510.7 305.5,511.0 305.8,511.5 306.1,512.1 306.4,512.8 306.7,513.6 307.1,514.3 307.4,514.9 307.8,515.4 308.1,515.7 308.4,515.8 308.6,515.5 308.7,515.4 308.7,515.2 308.8,515.0 308.9,514.7 309.0,514.4 309.0,514.1 309.1,513.8 309.2,513.4 309.3,513.0 309.4,512.5 309.5,512.1 309.6,511.6 309.7,511.1 309.8,510.6 309.9,510.0 310.0,509.5 310.1,508.9 310.2,508.3 310.3,507.7 310.5,507.1 310.6,506.5 310.7,505.9 310.8,505.3 310.9,504.7 311.0,504.0 311.1,503.4 311.2,502.8 311.3,502.1 311.4,501.5 311.5,500.9 311.6,500.3 311.7,499.7 311.8,499.1 311.9,498.6 312.0,498.0 312.0,497.8 312.1,497.5 312.1,497.2 312.2,496.9 312.2,496.6 312.3,496.3 312.3,495.9 312.4,495.5 312.4,495.1 312.5,494.7 312.5,494.3 312.6,493.9 312.7,493.4 312.7,493.0 312.8,492.5 312.9,492.0 312.9,491.5 313.0,491.0 313.1,490.4 313.2,489.9 313.2,489.3 313.3,488.8 313.4,488.2 313.5,487.6 313.6,487.0 313.6,486.4 313.7,485.8 313.8,485.2 313.9,484.6 314.0,484.0 314.1,483.3 314.1,482.7 314.2,482.1 314.3,481.4 314.4,480.8 314.5,480.1 314.6,479.5 314.7,478.8 314.8,478.2 314.8,477.5 314.9,476.9 315.0,476.2 315.1,475.6 315.2,474.9 315.3,474.3 315.4,473.6 315.5,473.0 315.6,472.3 315.7,471.7 315.7,471.1 315.8,470.4 315.9,469.8 316.0,469.2 316.1,468.6 316.2,468.0 316.3,467.4 316.3,466.8 316.4,466.3 316.5,465.7 316.6,465.2 316.7,464.6 316.8,464.1 316.8,463.6 316.9,463.1 317.0,462.6 317.1,462.1 317.1,461.6 317.2,461.2 317.3,460.7 317.3,460.3 317.4,459.9 317.5,459.5 317.5,459.1 317.6,458.8 317.7,458.4 317.7,458.1 317.8,457.8 317.8,457.5 317.9,457.3 317.9,457.0 318.0,456.8 318.0,456.6 318.1,456.5 318.1,456.3 318.4,455.6 318.7,455.3 319.0,455.3 319.3,455.6 319.7,456.1 320.1,456.7 320.4,457.5 320.8,458.4 321.1,459.3 321.4,460.1 321.6,460.9 321.8,461.5 322.1,463.2 322.0,464.6 322.1,466.3 322.4,468.1 323.4,469.6 324.7,471.6 326.0,472.4 327.1,473.7 328.4,474.3 329.8,475.7 331.2,476.4 332.7,477.7 333.8,478.6 334.8,479.4 335.8,480.8 337.2,481.7 338.6,482.5 339.9,484.3 341.1,485.0 342.2,485.7 343.2,487.4 344.4,488.7 345.1,489.7 345.7,491.7 346.1,494.1 346.5,496.4 346.8,497.3 347.2,499.0 348.1,497.4 348.4,495.9 348.7,494.3 349.0,492.2 349.3,490.1 349.7,487.4 350.0,485.7 350.4,483.5 351.5,483.8 352.1,486.0 352.6,487.3 353.2,489.6 353.8,490.9 354.4,492.9 355.0,495.0 355.6,497.1 356.3,499.1 357.3,499.6 358.7,498.5 359.9,496.8 361.1,495.2 362.3,493.5 363.3,493.1 364.3,493.5 365.4,495.1 366.6,496.1 367.8,497.2 369.2,498.4 370.5,499.9 371.7,501.3 372.7,502.2 373.8,503.8 375.1,504.9 376.3,507.1 377.5,509.0 378.8,510.3 380.1,511.5 381.2,512.3 382.4,512.8 383.2,511.1 383.5,510.0 383.8,507.4 384.0,506.0 384.2,503.8 384.4,502.0 384.6,499.4 384.8,497.4 385.0,495.3 385.2,493.6 385.4,491.7 385.6,489.3 385.7,487.2 385.9,486.2 386.1,484.3 386.3,482.8 387.0,484.7 387.2,486.3 387.4,487.9 387.5,489.9 387.7,492.3 387.9,493.8 388.1,496.3 388.2,498.8 388.4,500.8 388.6,502.4 388.7,503.9 388.9,506.4 389.0,507.9 389.2,509.6 390.4,509.4 391.3,507.7 392.4,507.9 393.0,510.0 393.6,511.9 394.3,514.1 395.0,515.1 396.0,515.7 396.4,514.1 396.8,512.6 397.2,510.5 397.5,508.7 397.9,506.6 398.3,504.9 398.6,502.8 399.0,501.2 399.3,499.1 400.1,502.1 400.5,503.9 401.4,502.2 401.8,500.4 402.3,498.9 402.7,496.9 403.1,495.1 403.5,493.5 403.9,492.0 404.2,489.5 404.7,487.7 405.1,486.0 405.5,483.8 405.9,482.6 406.4,479.9 406.8,478.2 407.2,476.6 407.7,474.1 408.1,472.0 408.5,470.3 408.9,468.6 409.3,467.0 409.7,465.1 410.0,463.9 410.2,463.4 410.3,463.0 410.4,462.5 410.5,462.1 410.6,461.6 410.7,461.2 410.8,460.8 410.9,460.4 411.0,460.1 411.1,459.7 411.2,459.4 411.2,459.0 411.3,458.7 411.4,458.5 411.5,458.2 411.6,458.0 411.6,457.7 411.7,457.5 411.7,457.4 411.8,457.2 412.3,456.2 412.7,455.8 413.2,455.8 413.7,456.1 414.2,456.6 414.6,457.3 415.1,458.1 415.5,458.8 415.9,459.5 416.3,459.9 416.6,460.0 416.9,459.9 417.2,459.6 417.6,459.1 418.0,458.6 418.5,458.0 418.9,457.4 419.4,456.8 419.9,456.2 420.3,455.7 420.7,455.2 421.1,454.9 421.5,454.7 421.8,454.8 422.0,455.0 422.1,455.2 422.1,455.4 422.2,455.6 422.3,456.0 422.3,456.3 422.4,456.7 422.4,457.2 422.5,457.7 422.6,458.2 422.6,458.8 422.7,459.4 422.8,460.0 422.8,460.7 422.9,461.4 423.0,462.1 423.0,462.8 423.1,463.5 423.2,464.2 423.2,464.9 423.3,465.7 423.3,466.4 423.4,467.1 423.5,467.8 423.5,468.5 423.6,469.2 423.7,469.9 423.7,470.5 423.8,471.1 423.8,471.7 423.9,472.3 424.0,472.8 424.0,473.3 424.1,473.8 424.1,474.2 424.2,474.5 424.2,474.8 424.3,475.1 424.3,475.3 424.4,475.4 424.4,475.5 424.5,475.5 424.5,475.5 424.6,475.3 424.6,475.2 424.7,475.0 424.8,474.8 424.8,474.5 424.9,474.2 425.0,473.8 425.0,473.4 425.1,473.0 425.2,472.5 425.3,472.0 425.3,471.5 425.4,470.9 425.5,470.3 425.6,469.7 425.7,469.1 425.8,468.5 425.9,467.8 426.0,467.2 426.0,466.5 426.1,465.8 426.2,465.1 426.3,464.4 426.4,463.7 426.5,463.0 426.6,462.3 426.7,461.6 426.8,460.9 426.9,460.2 427.0,459.6 427.1,458.9 427.2,458.2 427.3,457.6 427.3,457.0 427.4,456.4 427.5,455.8 427.6,455.3 427.7,454.7 427.8,454.2 427.8,453.8 427.9,453.3 428.0,452.9 428.1,452.6 428.1,452.2 428.2,451.9 428.2,451.7 428.3,451.5 428.7,450.7 429.1,450.1 429.6,449.7 430.2,449.5 430.8,449.4 431.3,449.4 431.8,449.4 432.2,449.4 432.5,449.4 433.0,449.1 433.5,448.9 434.0,449.2 434.5,450.5 434.6,450.7 434.6,450.9 434.7,451.2 434.7,451.5 434.8,451.9 434.9,452.3 435.0,452.7 435.1,453.2 435.2,453.7 435.3,454.2 435.4,454.7 435.5,455.3 435.6,455.9 435.7,456.5 435.8,457.1 435.9,457.8 436.0,458.4 436.2,459.1 436.3,459.8 436.4,460.5 436.6,461.2 436.7,461.9 436.8,462.6 436.9,463.3 437.1,464.0 437.2,464.7 437.3,465.3 437.5,466.0 437.6,466.7 437.7,467.3 437.8,468.0 438.0,468.6 438.1,469.2 438.2,469.8 438.3,470.3 438.4,470.8 438.5,471.3 438.7,471.8 438.8,472.2 438.9,472.6 439.0,473.0 439.1,473.3 439.1,473.6 439.2,473.9 439.3,474.1 439.4,474.2 439.4,474.3 439.5,474.4 439.6,474.4 439.6,474.3 439.7,474.2 439.8,474.0 439.9,473.7 440.0,473.4 440.1,473.0 440.2,472.6 440.3,472.1 440.4,471.6 440.5,471.1 440.6,470.5 440.7,469.9 440.8,469.2 440.9,468.6 441.0,467.9 441.1,467.2 441.2,466.4 441.3,465.7 441.4,465.0 441.5,464.3 441.6,463.5 441.7,462.8 441.8,462.1 441.9,461.4 442.0,460.7 442.1,460.1 442.2,459.4 442.3,458.8 442.4,458.3 442.4,457.7 442.5,457.2 442.6,456.8 442.7,456.4 442.8,456.0 442.8,455.7 442.9,455.5 442.9,455.3 443.0,455.2 443.1,455.1 443.2,455.2 443.3,455.4 443.4,455.7 443.5,456.1 443.7,456.6 443.8,457.2 443.9,457.8 444.0,458.5 444.2,459.2 444.3,460.0 444.4,460.7 444.6,461.4 444.7,462.1 444.9,462.8 445.0,463.5 445.1,464.0 445.3,464.5 445.4,464.9 445.6,465.2 445.7,465.4 446.0,465.6 446.3,465.6 446.8,465.6 447.3,465.6 447.8,465.5 448.4,465.3 449.0,465.1 449.6,464.8 450.2,464.5 450.7,464.2 451.2,463.9 451.6,463.6 452.0,463.3 452.2,463.1 452.4,462.8 452.6,462.5 452.9,462.1 453.2,461.7 453.4,461.3 453.7,460.8 454.1,460.3 454.4,459.7 454.7,459.2 455.0,458.6 455.4,458.1 455.7,457.5 456.0,456.9 456.3,456.4 456.6,455.9 456.9,455.4 457.1,454.9 457.4,454.5 457.6,454.1 457.8,453.7 458.0,453.4 458.1,453.2 458.2,453.0" fill="none" stroke="#111" stroke-width="1.9" stroke-linejoin="round" stroke-linecap="round" />
<polyline points="23.5,490.0 23.7,490.1 25.0,490.1 26.2,490.8 27.4,491.2 28.6,491.8 29.9,492.1 31.3,492.6 32.5,493.2 33.6,493.1 34.9,493.8 36.2,493.9 37.3,493.9 38.4,493.9 39.8,494.7 41.2,494.4 42.5,494.2 43.7,494.2 44.9,494.0 46.1,494.5 47.2,495.2 48.4,495.8 49.7,495.4 51.1,497.2 52.2,498.4 53.4,500.1 54.3,502.5 55.2,503.4 56.6,502.6 57.6,506.0 58.9,506.4 60.1,505.3 61.2,508.1 62.5,509.3 63.5,506.7 64.6,509.9 65.9,507.1 66.9,510.5 68.1,510.3 69.1,509.3 70.3,511.2 71.8,511.0 73.2,513.4 74.3,513.9 75.4,513.8 76.5,514.8 77.7,515.7 79.1,514.5 80.3,516.1 81.5,515.9 82.6,516.3 83.8,515.5 84.8,516.2 86.0,516.4 87.3,516.8 88.4,516.5 89.7,516.6 91.1,516.2 92.3,515.8 93.4,515.6 94.4,515.5 95.6,515.2 97.1,514.7 98.1,513.8 99.2,513.5 100.3,513.0 101.5,512.5 103.0,511.7 104.1,511.0 105.4,510.6 106.5,510.5 107.6,510.7 109.0,510.5 110.0,510.6 111.1,510.8 112.3,510.5 113.5,510.5 114.8,510.2 116.0,510.0 117.3,510.6 118.5,510.1 119.6,510.5 120.7,510.0 121.8,510.5 123.1,510.1 124.2,510.2 125.4,510.6 126.9,510.5 128.0,510.7 129.2,510.8 130.4,510.6 131.6,510.5 132.8,510.9 134.1,511.1 135.3,511.0 136.4,510.9 137.5,511.3 138.9,511.2 140.1,511.9 141.4,512.2 142.6,513.1 143.9,514.7 145.1,515.9 146.1,517.2 147.4,519.3 148.7,519.4 149.9,517.9 151.0,516.3 152.3,515.9 153.4,517.3 154.7,517.8 155.8,516.0 156.7,514.4 157.9,512.8 159.2,512.8 160.4,512.4 161.9,512.2 162.9,512.0 164.1,511.8 165.3,511.4 166.5,511.3 167.8,511.7 169.0,511.5 170.2,511.1 171.3,511.4 172.4,511.5 173.6,511.6 174.9,511.6 176.2,511.5 177.6,511.5 178.6,512.0 179.7,512.2 180.8,512.4 182.0,512.6 183.1,512.2 184.3,512.5 185.6,512.9 186.8,512.7 188.0,513.3 189.2,513.5 190.4,513.5 191.5,513.7 192.6,513.5 193.7,514.1 194.7,513.9 196.1,514.3 197.3,514.1 198.3,514.6 199.5,514.6 200.8,514.8 202.2,515.3 203.2,515.0 204.3,515.2 205.4,515.5 206.5,515.2 207.7,515.7 208.8,515.6 210.0,516.0 211.2,516.1 212.4,515.7 213.5,515.9 214.7,516.3 215.8,516.1 216.9,516.4 218.0,516.5 219.0,516.3 220.4,516.4 221.7,516.6 222.8,516.8 223.8,516.9 225.1,517.5 226.4,517.3 227.9,517.6 229.0,517.5 230.1,517.3 231.3,517.8 232.5,517.8 233.7,517.9 234.9,517.8 236.1,517.7 237.3,517.9 238.5,517.9 239.7,518.4 240.9,518.1 242.1,518.1 243.2,518.1 244.2,518.7 245.3,518.5 246.7,518.4 248.0,518.6 249.1,519.2 250.4,518.8 251.8,519.7 253.2,519.7 254.3,519.7 255.3,520.6 256.4,520.4 257.5,520.7 258.6,521.4 259.7,521.6 260.8,522.1 261.9,522.5 262.9,522.9 264.3,522.9 265.6,523.5 266.7,524.0 268.1,524.3 269.4,525.0 270.9,525.4 272.0,525.8 273.1,526.4 274.2,526.7 275.4,526.9 276.5,527.2 277.5,528.0 279.0,528.6 280.2,528.7 281.6,529.3 282.8,530.1 284.3,530.9 285.4,531.2 286.4,531.6 287.5,532.5 288.5,532.7 289.9,533.5 291.0,534.5 292.3,535.2 293.4,536.5 294.7,537.1 296.0,538.5 297.1,539.8 298.3,541.1 299.4,542.4 300.1,543.7 300.4,544.1 300.7,544.6 301.0,545.1 301.3,545.5 301.6,546.0 301.8,546.4 302.0,546.8 302.1,547.1 302.3,547.4 302.5,547.9 302.6,548.3 302.8,548.8 303.0,549.4 303.3,549.9 303.5,550.5 303.7,551.1 303.9,551.7 304.1,552.3 304.4,552.8 304.6,553.4 304.8,553.9 304.9,554.3 305.1,554.8 305.3,555.1 305.4,555.4 305.6,555.9 305.9,556.4 306.1,557.1 306.5,557.8 306.8,558.6 307.1,559.3 307.5,559.9 307.8,560.5 308.1,560.9 308.4,561.1 308.7,561.1 308.9,560.8 309.0,560.7 309.0,560.5 309.1,560.3 309.2,560.0 309.2,559.8 309.3,559.5 309.4,559.1 309.5,558.8 309.6,558.4 309.7,558.0 309.8,557.5 309.9,557.1 310.0,556.6 310.1,556.1 310.2,555.6 310.3,555.0 310.4,554.5 310.5,553.9 310.6,553.3 310.7,552.7 310.9,552.1 311.0,551.5 311.1,550.9 311.2,550.3 311.3,549.7 311.4,549.1 311.5,548.5 311.6,547.8 311.8,547.2 311.9,546.6 312.0,546.0 312.1,545.4 312.2,544.8 312.3,544.2 312.4,543.6 312.5,543.1 312.6,542.5 312.7,542.0 312.8,541.4 312.8,540.9 312.9,540.5 313.0,540.0 313.0,539.7 313.1,539.4 313.1,539.1 313.2,538.8 313.2,538.5 313.3,538.1 313.4,537.7 313.4,537.3 313.5,536.8 313.6,536.4 313.6,535.9 313.7,535.5 313.8,535.0 313.8,534.5 313.9,533.9 314.0,533.4 314.1,532.8 314.1,532.3 314.2,531.7 314.3,531.1 314.4,530.5 314.5,529.9 314.6,529.3 314.6,528.7 314.7,528.1 314.8,527.4 314.9,526.8 315.0,526.1 315.1,525.5 315.2,524.8 315.3,524.2 315.4,523.5 315.5,522.9 315.6,522.2 315.6,521.5 315.7,520.9 315.8,520.2 315.9,519.5 316.0,518.9 316.1,518.2 316.2,517.6 316.3,516.9 316.4,516.3 316.5,515.7 316.6,515.0 316.7,514.4 316.8,513.8 316.9,513.2 316.9,512.6 317.0,512.0 317.1,511.4 317.2,510.9 317.3,510.3 317.4,509.8 317.5,509.2 317.5,508.7 317.6,508.2 317.7,507.7 317.8,507.3 317.9,506.8 317.9,506.4 318.0,506.0 318.1,505.6 318.2,505.2 318.2,504.8 318.3,504.5 318.4,504.2 318.4,503.9 318.5,503.6 318.5,503.4 318.6,503.1 318.7,502.9 318.7,502.8 318.8,502.6 318.8,502.5 318.9,502.3 319.0,502.1 319.2,502.1 319.3,502.2 319.4,502.4 319.5,502.7 319.6,503.0 319.8,503.5 319.9,504.0 320.0,504.5 320.2,505.1 320.3,505.7 320.4,506.4 320.6,507.1 320.7,507.8 320.9,508.6 321.1,509.3 321.3,510.1 321.4,510.8 321.6,511.5 321.9,512.2 322.6,514.1 323.6,515.7 324.8,516.5 326.1,517.7 327.3,519.5 328.6,519.9 329.9,521.3 331.4,522.8 332.9,524.2 333.9,524.6 334.9,525.7 336.4,526.8 337.8,527.6 339.1,528.5 340.4,529.8 341.5,530.6 342.7,532.3 343.8,532.7 344.9,535.4 345.5,536.5 346.0,538.5 346.4,541.1 346.7,542.2 347.1,544.0 348.2,542.4 348.5,541.1 348.8,538.7 349.1,536.6 349.4,534.9 349.8,532.3 350.1,530.4 350.5,529.0 351.6,529.6 352.3,531.6 352.9,532.9 353.6,534.6 354.3,536.9 355.0,539.0 355.7,541.4 356.3,542.2 357.1,543.9 358.2,543.2 358.9,541.6 359.6,539.7 360.4,537.6 361.2,535.8 362.2,533.9 363.3,534.3 364.3,535.4 365.6,536.7 366.7,538.3 367.8,540.3 369.0,541.4 370.1,542.8 371.1,544.3 372.4,546.4 373.5,548.0 374.6,549.2 376.0,551.1 377.0,552.8 378.1,554.4 379.4,555.9 380.4,557.1 381.7,559.2 382.8,558.2 383.0,556.3 383.2,554.6 383.4,553.5 383.6,551.6 383.8,549.3 384.0,547.3 384.2,545.7 384.5,543.3 384.7,541.3 384.9,539.3 385.1,536.9 385.4,535.3 385.6,533.5 385.8,532.1 386.0,530.5 386.4,528.8 387.0,530.2 387.2,531.7 387.4,533.8 387.6,535.1 387.9,537.5 388.1,538.9 388.3,541.3 388.5,543.4 388.8,545.9 389.0,547.8 389.2,549.8 389.4,551.5 389.6,553.2 389.8,555.0 390.0,557.0 390.3,558.6 391.1,556.2 391.4,554.5 391.7,552.5 392.8,553.2 393.6,555.2 394.4,557.4 395.2,558.9 396.3,557.5 396.7,555.7 397.1,554.2 397.6,552.5 398.0,550.0 398.5,548.3 398.9,546.7 399.3,545.0 399.7,542.7 400.1,541.7 401.0,543.7 401.1,545.8 401.3,547.4 401.5,548.7 402.5,547.8 402.9,546.3 403.2,544.3 403.5,542.8 403.9,540.7 404.2,539.7 404.5,537.4 404.8,535.6 405.2,533.7 405.5,532.2 405.9,530.0 406.2,527.9 406.6,526.3 407.0,524.7 407.3,522.4 407.7,520.5 408.0,517.9 408.4,516.3 408.7,514.7 409.1,513.1 409.4,510.9 409.7,509.1 410.0,508.0 410.1,507.5 410.2,507.0 410.3,506.6 410.4,506.1 410.5,505.7 410.6,505.3 410.7,504.9 410.7,504.5 410.8,504.1 410.9,503.8 411.0,503.5 411.1,503.2 411.1,502.9 411.2,502.6 411.3,502.3 411.3,502.1 411.4,501.9 411.4,501.7 411.5,501.5 411.9,500.4 412.4,499.6 413.0,499.0 413.5,498.7 414.1,498.5 414.7,498.5 415.3,498.6 415.9,498.7 416.5,499.0 417.0,499.2 417.4,499.4 417.7,499.6 418.0,499.7 418.3,499.9 418.6,500.4 418.9,501.0 419.1,501.7 419.4,502.4 419.6,503.0 419.7,503.3 419.9,503.4 420.0,503.2 420.1,502.8 420.3,502.2 420.4,501.4 420.5,500.6 420.7,499.8 420.9,498.9 421.0,498.2 421.2,497.5 421.3,497.0 421.5,496.7 421.6,496.6 421.7,496.9 421.7,497.0 421.8,497.2 421.8,497.5 421.8,497.8 421.9,498.1 421.9,498.5 422.0,499.0 422.0,499.4 422.0,499.9 422.1,500.5 422.1,501.0 422.2,501.6 422.2,502.3 422.3,502.9 422.3,503.6 422.4,504.3 422.4,505.0 422.5,505.7 422.6,506.4 422.6,507.1 422.7,507.9 422.7,508.6 422.8,509.3 422.8,510.1 422.9,510.8 423.0,511.5 423.0,512.2 423.1,512.9 423.1,513.6 423.2,514.2 423.3,514.9 423.3,515.5 423.4,516.1 423.4,516.6 423.5,517.2 423.5,517.6 423.6,518.1 423.6,518.5 423.7,518.9 423.7,519.2 423.8,519.5 423.8,519.7 423.9,519.9 423.9,520.0 424.0,520.1 424.0,520.1 424.0,520.1 424.1,520.0 424.1,519.8 424.2,519.7 424.2,519.4 424.2,519.2 424.3,518.9 424.3,518.6 424.4,518.2 424.4,517.8 424.5,517.4 424.6,516.9 424.6,516.4 424.7,515.9 424.7,515.4 424.8,514.9 424.8,514.3 424.9,513.7 425.0,513.1 425.0,512.4 425.1,511.8 425.2,511.1 425.2,510.5 425.3,509.8 425.4,509.1 425.4,508.4 425.5,507.7 425.6,507.0 425.7,506.3 425.7,505.6 425.8,505.0 425.9,504.3 425.9,503.6 426.0,502.9 426.1,502.2 426.2,501.6 426.2,500.9 426.3,500.3 426.4,499.6 426.4,499.0 426.5,498.5 426.6,497.9 426.6,497.3 426.7,496.8 426.8,496.3 426.8,495.8 426.9,495.4 427.0,495.0 427.0,494.6 427.1,494.2 427.1,493.9 427.2,493.6 427.2,493.4 427.3,493.2 427.6,492.5 427.9,491.9 428.3,491.3 428.8,490.9 429.3,490.5 429.9,490.2 430.4,490.0 430.9,489.8 431.4,489.6 431.9,489.6 432.3,489.5 432.6,489.5 432.9,489.5 433.2,489.6 433.5,489.7 433.8,489.9 434.1,490.2 434.4,490.6 434.7,491.1 435.0,491.7 435.2,492.4 435.5,493.2 435.7,494.1 435.7,494.3 435.8,494.6 435.8,494.9 435.9,495.2 435.9,495.5 436.0,495.9 436.1,496.4 436.1,496.8 436.2,497.3 436.3,497.8 436.3,498.3 436.4,498.9 436.5,499.5 436.5,500.1 436.6,500.7 436.7,501.3 436.8,502.0 436.8,502.6 436.9,503.3 437.0,504.0 437.1,504.6 437.2,505.3 437.3,506.0 437.3,506.7 437.4,507.4 437.5,508.1 437.6,508.8 437.7,509.5 437.8,510.2 437.9,510.8 437.9,511.5 438.0,512.2 438.1,512.8 438.2,513.4 438.3,514.0 438.3,514.6 438.4,515.2 438.5,515.7 438.6,516.2 438.7,516.7 438.7,517.2 438.8,517.7 438.9,518.1 438.9,518.4 439.0,518.8 439.1,519.1 439.1,519.4 439.2,519.6 439.2,519.8 439.3,519.9 439.4,520.0 439.4,520.1 439.5,520.1 439.5,520.0 439.6,519.9 439.7,519.7 439.7,519.5 439.8,519.1 439.9,518.8 440.0,518.3 440.1,517.9 440.2,517.4 440.3,516.8 440.4,516.2 440.5,515.6 440.5,515.0 440.6,514.3 440.7,513.6 440.9,512.9 441.0,512.1 441.1,511.4 441.2,510.7 441.3,509.9 441.4,509.2 441.5,508.4 441.6,507.7 441.7,506.9 441.8,506.2 441.9,505.5 442.0,504.9 442.1,504.2 442.2,503.6 442.3,503.0 442.4,502.4 442.5,501.9 442.6,501.5 442.6,501.0 442.7,500.7 442.8,500.4 442.9,500.1 443.0,499.9 443.0,499.8 443.1,499.7 443.2,499.7 443.3,499.8 443.4,500.0 443.5,500.2 443.6,500.5 443.7,500.9 443.9,501.3 444.0,501.8 444.1,502.3 444.3,502.8 444.4,503.4 444.6,504.1 444.7,504.7 444.9,505.4 445.1,506.1 445.2,506.8 445.4,507.6 445.5,508.3 445.7,509.0 445.9,509.7 446.0,510.4 446.2,511.1 446.3,511.8 446.5,512.4 446.6,513.1 446.8,513.6 446.9,514.2 447.0,514.7 447.2,515.1 447.3,515.5 447.4,515.8 447.5,516.1 447.6,516.3 447.7,516.4 447.9,516.5 448.1,516.4 448.3,516.3 448.5,516.0 448.7,515.6 449.0,515.2 449.2,514.7 449.5,514.1 449.8,513.5 450.0,512.8 450.3,512.2 450.6,511.5 450.8,510.8 451.1,510.2 451.3,509.6 451.6,509.0 451.8,508.5 452.0,508.0 452.1,507.7 452.3,507.4 452.4,507.1 452.6,506.7 452.8,506.3 453.0,505.8 453.2,505.4 453.5,504.9 453.7,504.3 454.0,503.8 454.3,503.2 454.5,502.6 454.8,502.0 455.1,501.5 455.3,500.9 455.6,500.3 455.9,499.7 456.2,499.1 456.4,498.5 456.7,497.9 457.0,497.4 457.2,496.8 457.5,496.3 457.7,495.8 457.9,495.4 458.1,494.9 458.3,494.6 458.4,494.2 458.6,493.9 458.7,493.6 458.8,493.4 458.9,493.2" fill="none" stroke="#111" stroke-width="1.9" stroke-linejoin="round" stroke-linecap="round" />
<polyline points="23.5,548.6 23.7,548.7 24.8,549.5 25.9,549.9 27.1,550.3 28.3,549.8 29.6,549.9 30.7,550.9 32.1,550.4 33.3,551.2 34.3,552.7 35.3,552.3 36.4,553.3 37.9,553.6 39.0,554.2 40.5,554.1 41.7,552.3 42.9,553.6 44.0,551.9 45.1,554.3 46.5,554.5 47.6,553.9 48.7,555.5 49.8,554.5 51.0,556.8 52.3,556.5 53.5,556.6 54.6,554.6 55.8,554.7 57.1,556.1 58.4,556.5 59.6,556.5 60.8,557.1 62.0,555.2 63.3,556.2 64.6,557.9 65.8,557.4 67.0,556.6 68.2,558.0 69.5,558.3 70.7,559.7 71.8,559.4 72.9,560.0 74.0,560.8 75.4,561.0 76.5,562.5 77.6,561.8 78.8,562.2 79.9,563.3 81.0,563.1 82.3,563.2 83.7,562.7 84.9,562.7 86.2,562.6 87.4,563.2 88.5,563.1 89.7,562.6 91.1,562.9 92.3,563.3 93.5,563.1 94.7,563.1 95.8,563.3 97.0,563.0 98.2,562.8 99.7,562.2 100.8,561.8 102.0,562.0 103.1,561.6 104.3,561.6 105.3,561.4 106.6,560.7 107.7,560.7 109.0,560.5 110.1,560.9 111.2,560.6 112.3,560.5 113.5,560.6 114.8,560.7 115.9,560.7 117.1,560.9 118.2,560.7 119.6,560.6 120.6,560.5 121.9,561.0 123.3,560.6 124.4,560.5 125.6,560.8 126.8,561.3 128.0,561.0 129.3,561.0 130.5,561.3 131.8,561.2 133.0,561.4 134.1,561.5 135.2,562.0 136.6,562.0 137.8,561.8 139.2,562.5 140.3,562.6 141.3,563.5 142.8,564.2 144.0,564.7 145.0,566.5 145.8,568.1 146.5,569.9 147.1,571.6 148.0,573.5 149.1,572.1 150.1,570.4 151.1,568.9 152.4,568.6 153.5,569.4 154.7,568.4 155.3,566.7 156.1,565.3 157.0,563.7 158.0,562.7 159.2,562.2 160.4,561.9 161.9,561.3 163.0,561.8 164.1,561.3 165.3,561.2 166.6,561.8 167.8,561.4 169.0,561.2 170.2,561.4 171.3,561.7 172.4,561.5 173.6,561.8 174.9,561.6 176.2,561.8 177.6,561.9 178.6,562.0 179.7,562.6 180.8,562.2 182.0,562.3 183.1,562.7 184.3,563.0 185.6,563.1 186.8,563.2 188.0,563.2 189.2,563.9 190.4,564.0 191.5,564.2 192.6,564.0 193.7,564.1 194.7,564.4 196.1,564.2 197.3,564.4 198.3,564.7 199.4,564.7 200.7,565.2 202.1,565.6 203.6,565.7 204.7,565.5 205.7,566.1 206.9,566.1 208.0,566.1 209.1,566.5 210.3,566.5 211.5,566.6 212.6,567.2 213.7,567.1 214.9,567.0 216.0,567.7 217.0,568.0 218.1,568.0 219.5,567.7 220.9,568.2 222.1,568.0 223.1,568.7 224.2,568.7 225.5,568.9 226.9,568.5 227.9,568.7 229.0,569.1 230.1,568.9 231.3,569.2 232.5,568.7 233.7,569.2 234.9,569.1 236.1,569.0 237.3,569.5 238.5,569.0 239.7,569.1 240.9,569.4 242.1,569.6 243.2,569.5 244.2,569.8 245.3,569.7 246.7,569.9 248.0,570.0 249.1,570.3 250.4,570.5 251.8,570.6 252.8,570.7 253.9,570.5 254.9,571.4 256.1,571.0 257.2,571.5 258.3,571.7 259.5,572.5 260.6,572.8 261.7,572.6 262.7,573.3 264.2,573.7 265.5,573.7 266.7,574.5 268.1,575.0 269.4,575.2 270.9,575.9 272.0,575.8 273.1,576.4 274.2,576.6 275.4,577.1 276.5,578.0 277.5,578.0 279.0,578.7 280.2,579.3 281.6,580.1 282.8,580.3 284.3,580.8 285.4,581.8 286.4,581.6 287.5,582.2 288.5,583.0 289.9,583.6 291.0,584.7 292.2,585.5 293.5,586.9 294.6,587.8 295.7,589.6 296.7,590.7 297.9,592.8 298.9,594.5 299.7,595.8 300.1,596.9 300.3,597.4 300.6,597.9 300.8,598.5 301.0,599.0 301.2,599.6 301.4,600.1 301.6,600.7 301.8,601.2 302.0,601.7 302.2,602.2 302.4,602.7 302.5,603.1 302.7,603.5 302.8,603.9 302.9,604.2 303.0,604.5 303.1,604.9 303.2,605.3 303.3,605.8 303.5,606.3 303.6,606.8 303.7,607.3 303.9,607.8 304.0,608.4 304.2,609.0 304.3,609.6 304.5,610.2 304.6,610.8 304.8,611.4 304.9,611.9 305.0,612.5 305.2,613.1 305.3,613.7 305.5,614.2 305.6,614.8 305.7,615.3 305.8,615.8 305.9,616.2 306.0,616.6 306.1,617.0 306.2,617.4 306.3,617.7 306.4,618.1 306.5,618.6 306.6,619.3 306.7,619.9 306.8,620.7 307.0,621.5 307.1,622.4 307.2,623.2 307.3,624.1 307.5,625.0 307.6,625.8 307.8,626.6 307.9,627.4 308.0,628.1 308.2,628.7 308.3,629.2 308.5,629.7 308.6,630.0 308.7,630.1 308.8,630.2 309.0,630.0 309.1,629.7 309.2,629.2 309.2,629.1 309.2,628.9 309.3,628.7 309.3,628.5 309.3,628.3 309.4,628.1 309.4,627.9 309.4,627.6 309.5,627.3 309.5,627.0 309.5,626.7 309.6,626.4 309.6,626.1 309.6,625.7 309.7,625.4 309.7,625.0 309.8,624.6 309.8,624.2 309.8,623.8 309.9,623.3 309.9,622.9 310.0,622.4 310.0,622.0 310.1,621.5 310.1,621.0 310.1,620.5 310.2,620.0 310.2,619.5 310.3,618.9 310.3,618.4 310.4,617.9 310.4,617.3 310.5,616.7 310.5,616.2 310.6,615.6 310.6,615.0 310.7,614.4 310.7,613.8 310.8,613.2 310.8,612.6 310.9,612.0 311.0,611.4 311.0,610.7 311.1,610.1 311.1,609.5 311.2,608.8 311.2,608.2 311.3,607.5 311.3,606.9 311.4,606.2 311.5,605.6 311.5,604.9 311.6,604.3 311.6,603.6 311.7,602.9 311.7,602.3 311.8,601.6 311.8,600.9 311.9,600.3 312.0,599.6 312.0,599.0 312.1,598.3 312.1,597.6 312.2,597.0 312.2,596.3 312.3,595.7 312.3,595.0 312.4,594.4 312.4,593.7 312.5,593.1 312.6,592.5 312.6,591.8 312.7,591.2 312.7,590.6 312.8,590.0 312.8,589.4 312.9,588.8 312.9,588.2 313.0,587.6 313.0,587.0 313.1,586.4 313.1,585.9 313.2,585.3 313.2,584.8 313.2,584.2 313.3,583.7 313.3,583.2 313.4,582.7 313.4,582.2 313.5,581.7 313.5,581.2 313.6,580.7 313.6,580.3 313.6,579.8 313.7,579.4 313.7,579.0 313.8,578.6 313.8,578.2 313.8,577.8 313.9,577.4 313.9,577.1 313.9,576.7 314.0,576.4 314.0,576.1 314.0,575.8 314.0,575.5 314.1,575.2 314.1,575.0 314.2,574.5 314.2,573.9 314.3,573.4 314.3,572.8 314.4,572.2 314.5,571.6 314.5,571.0 314.6,570.4 314.7,569.8 314.7,569.2 314.8,568.6 314.9,567.9 315.0,567.3 315.0,566.6 315.1,566.0 315.2,565.3 315.3,564.7 315.4,564.0 315.4,563.4 315.5,562.7 315.6,562.1 315.7,561.5 315.8,560.8 315.8,560.2 315.9,559.6 316.0,559.0 316.1,558.4 316.2,557.8 316.2,557.2 316.3,556.7 316.4,556.1 316.5,555.6 316.6,555.1 316.7,554.6 316.7,554.1 316.8,553.7 316.9,553.2 317.0,552.8 317.0,552.4 317.1,552.0 317.2,551.7 317.3,551.4 317.3,551.1 317.4,550.8 317.5,550.5 317.5,550.3 317.6,550.2 317.7,550.0 317.7,549.9 317.8,549.8 317.9,549.7 318.0,549.7 318.1,549.8 318.2,550.0 318.3,550.2 318.5,550.5 318.6,550.9 318.7,551.3 318.9,551.7 319.0,552.2 319.2,552.7 319.3,553.3 319.5,553.9 319.6,554.5 319.8,555.2 320.0,555.8 320.2,556.5 320.3,557.2 320.5,557.9 320.7,558.5 320.9,559.2 321.2,559.9 321.4,560.5 321.6,561.2 321.8,561.8 322.6,563.8 323.8,565.3 324.8,565.8 326.2,567.5 327.4,568.1 328.7,568.9 330.1,570.4 331.6,570.9 332.6,571.3 333.6,572.7 334.7,572.9 335.7,574.1 336.7,574.9 338.2,575.6 339.6,576.5 340.9,577.9 342.0,578.8 343.1,579.2 344.1,580.3 345.3,582.7 345.9,583.8 346.3,585.8 346.6,588.2 346.9,589.5 347.1,592.2 347.3,593.6 347.4,595.8 347.6,597.3 348.4,595.6 348.7,593.5 348.9,591.4 349.1,589.4 349.4,587.2 349.6,585.1 349.9,583.0 350.1,581.1 350.4,578.8 350.7,577.5 351.7,576.4 352.1,578.8 352.5,579.7 352.9,581.7 353.3,583.7 353.8,586.5 354.2,587.9 354.6,590.1 355.1,592.1 355.5,593.9 355.9,595.8 356.4,597.3 357.5,597.9 358.5,595.8 359.4,594.7 360.3,591.9 361.2,590.0 362.1,588.8 363.2,587.0 364.4,586.0 365.5,586.6 366.8,588.6 367.8,589.3 368.9,590.7 370.0,591.9 371.1,593.9 372.2,595.2 373.2,597.5 374.3,599.0 375.2,600.2 376.0,602.4 376.6,603.6 377.2,605.2 377.8,607.1 378.4,610.1 379.1,611.8 379.7,614.0 380.3,615.5 380.9,617.7 381.6,618.8 382.7,620.3 383.1,618.5 383.4,617.1 383.5,615.3 383.7,613.7 383.8,611.8 383.9,610.0 384.1,607.6 384.2,605.5 384.3,603.4 384.5,601.7 384.6,599.5 384.7,596.9 384.9,595.1 385.0,593.4 385.1,591.2 385.3,589.2 385.4,587.4 385.5,585.6 385.7,583.1 385.8,581.8 385.9,580.3 386.1,578.8 386.3,576.7 387.3,578.6 387.7,580.3 387.9,582.4 388.2,584.2 388.5,585.5 388.8,588.0 389.1,589.9 389.4,591.6 389.7,594.1 390.0,596.1 390.3,597.8 390.6,600.1 390.8,602.3 391.1,603.8 391.3,605.3 391.6,607.7 391.9,608.9 392.2,610.6 392.6,613.3 393.0,614.7 393.4,617.1 393.8,619.2 394.2,620.7 394.6,622.5 395.2,624.2 396.2,623.7 396.5,621.8 396.8,619.9 397.1,617.9 397.4,615.8 397.7,613.9 398.0,611.9 398.3,609.8 398.6,608.0 398.9,605.8 399.1,603.9 399.4,602.7 399.6,600.7 399.9,598.9 400.2,596.8 400.7,596.0 401.1,597.7 401.5,599.5 402.5,598.6 402.9,596.9 403.2,594.7 403.6,593.0 404.0,591.1 404.3,589.7 404.7,588.1 405.0,586.2 405.4,584.3 405.8,581.9 406.2,580.6 406.6,578.7 407.0,576.8 407.4,574.5 407.8,572.5 408.2,570.8 408.5,568.4 408.9,566.5 409.3,565.4 409.6,563.1 410.0,561.9 410.1,561.5 410.2,561.0 410.3,560.5 410.4,560.1 410.5,559.6 410.6,559.2 410.6,558.8 410.7,558.4 410.8,558.1 410.9,557.7 411.0,557.4 411.1,557.1 411.1,556.8 411.2,556.5 411.3,556.2 411.3,556.0 411.4,555.8 411.4,555.6 411.5,555.4 412.0,554.1 412.6,553.4 413.1,553.1 413.7,553.1 414.3,553.4 414.8,553.8 415.3,554.1 415.8,554.4 416.2,554.4 416.5,554.2 416.9,554.0 417.4,553.6 417.9,553.2 418.5,552.7 419.0,552.3 419.6,551.9 420.1,551.6 420.6,551.4 421.1,551.3 421.4,551.4 421.7,551.6 421.8,551.8 421.9,552.0 421.9,552.4 422.0,552.7 422.1,553.2 422.2,553.7 422.3,554.2 422.3,554.8 422.4,555.5 422.5,556.1 422.6,556.8 422.6,557.5 422.7,558.3 422.8,559.0 422.9,559.7 422.9,560.5 423.0,561.2 423.1,561.9 423.2,562.6 423.2,563.3 423.3,563.9 423.4,564.5 423.4,565.1 423.5,565.6 423.6,566.1 423.7,566.5 423.7,566.8 423.8,567.1 423.9,567.3 423.9,567.4 424.0,567.4 424.1,567.3 424.1,567.2 424.2,567.1 424.3,566.8 424.4,566.5 424.5,566.2 424.6,565.8 424.7,565.3 424.8,564.9 424.9,564.3 425.1,563.8 425.2,563.2 425.3,562.6 425.5,562.0 425.6,561.3 425.7,560.7 425.9,560.0 426.0,559.3 426.1,558.6 426.3,557.9 426.4,557.3 426.6,556.6 426.7,555.9 426.8,555.3 427.0,554.6 427.1,554.0 427.2,553.4 427.4,552.9 427.5,552.3 427.6,551.8 427.7,551.4 427.8,551.0 427.9,550.6 428.0,550.3 428.1,550.0 428.2,549.8 428.5,549.2 429.0,548.8 429.5,548.4 430.0,548.2 430.6,548.0 431.2,547.9 431.7,547.8 432.2,547.8 432.6,547.8 432.9,547.9 433.2,548.0 433.5,548.2 433.8,548.5 434.2,548.8 434.5,549.3 434.9,549.7 435.2,550.3 435.5,550.9 435.7,551.6 435.8,551.8 435.8,552.1 435.9,552.5 436.0,552.9 436.1,553.3 436.2,553.8 436.3,554.4 436.4,554.9 436.5,555.5 436.6,556.2 436.7,556.8 436.8,557.5 436.9,558.2 437.1,558.8 437.2,559.5 437.3,560.2 437.4,560.9 437.5,561.6 437.7,562.2 437.8,562.9 437.9,563.5 438.0,564.1 438.1,564.6 438.2,565.1 438.3,565.6 438.5,566.0 438.6,566.4 438.7,566.7 438.7,567.0 438.8,567.2 438.9,567.3 439.0,567.4 439.1,567.4 439.2,567.2 439.3,567.0 439.4,566.7 439.6,566.4 439.7,565.9 439.9,565.4 440.0,564.9 440.2,564.3 440.4,563.6 440.5,562.9 440.7,562.2 440.9,561.5 441.1,560.8 441.2,560.1 441.4,559.3 441.6,558.6 441.8,557.9 441.9,557.2 442.1,556.6 442.3,556.0 442.4,555.4 442.5,554.9 442.7,554.5 442.8,554.1 442.9,553.8 443.0,553.6 443.1,553.5 443.3,553.5 443.4,553.6 443.6,553.9 443.8,554.4 444.0,554.9 444.1,555.6 444.3,556.3 444.5,557.0 444.7,557.8 444.9,558.5 445.1,559.2 445.3,559.8 445.5,560.3 445.7,560.7 445.9,560.9 446.2,561.1 446.6,561.2 447.1,561.2 447.6,561.2 448.2,561.2 448.8,561.1 449.4,560.9 449.9,560.8 450.5,560.5 451.0,560.3 451.4,560.0 451.6,559.8 451.8,559.6 452.1,559.3 452.4,558.9 452.8,558.5 453.1,558.1 453.5,557.6 453.9,557.2 454.3,556.6 454.7,556.1 455.2,555.6 455.6,555.0 456.0,554.5 456.4,554.0 456.8,553.5 457.2,553.0 457.5,552.5 457.8,552.1 458.1,551.7 458.4,551.4 458.6,551.1 458.8,550.9 458.9,550.7" fill="none" stroke="#111" stroke-width="1.9" stroke-linejoin="round" stroke-linecap="round" />
<polyline points="26.8,596.0 27.9,597.8 29.2,600.1 30.6,601.4 31.9,601.7 33.1,602.3 34.3,602.8 35.5,606.5 36.6,604.6 37.8,608.0 39.1,608.6 40.3,609.0 41.3,611.0 42.7,611.8 43.9,609.7 45.1,611.5 46.3,609.3 47.4,610.7 48.5,609.9 49.6,608.9 50.8,612.2 51.8,612.0 52.9,612.1 54.2,613.0 55.3,612.7 56.4,614.4 57.5,611.4 58.7,609.4 60.2,608.0 61.4,608.1 62.5,606.3 63.6,608.3 65.0,607.4 66.1,607.8 67.1,611.0 68.3,611.3 69.3,612.0 70.7,613.8 72.1,613.4 72.5,613.7 72.9,614.0 73.2,614.3 73.5,614.5 73.8,614.8 74.2,615.1 74.6,615.4 76.0,616.2 77.4,617.4 78.7,619.1 80.0,619.4 81.3,620.5 82.8,621.1 83.8,621.7 85.3,622.6 86.5,623.7 87.6,623.7 89.1,623.9 90.3,624.1 91.4,624.9 92.5,624.6 93.9,624.9 95.1,624.9 96.6,624.5 97.7,623.8 98.9,623.7 100.0,623.0 101.3,622.6 102.4,621.7 103.7,621.5 104.7,620.8 105.8,620.4 106.8,619.5 108.3,619.2 109.4,618.4 110.6,618.2 111.6,618.0 112.7,618.2 113.9,617.7 115.1,617.5 116.3,617.6 117.4,617.2 118.4,617.1 119.7,616.9 120.8,616.7 122.3,616.6 123.4,616.9 124.5,616.4 125.6,616.4 126.7,616.7 127.7,616.9 129.0,616.3 130.1,616.5 131.5,616.8 132.6,617.3 133.8,617.3 135.0,617.0 136.2,617.3 137.4,617.9 138.6,617.7 139.8,617.9 140.9,618.5 142.3,619.0 143.3,618.8 144.4,619.9 145.6,620.4 146.9,622.2 148.2,623.7 149.4,625.1 150.6,626.3 151.8,626.5 152.8,624.3 153.8,623.1 155.2,623.6 156.7,625.0 157.7,624.8 158.5,623.0 159.3,621.0 160.5,619.6 161.8,619.0 163.0,618.3 164.5,618.2 165.6,617.9 166.8,618.2 168.1,618.2 169.3,618.2 170.5,617.8 171.7,617.6 172.8,617.6 173.8,618.2 174.9,617.9 176.1,617.9 177.5,618.1 178.5,618.3 179.6,618.9 180.7,619.1 181.8,618.9 183.0,619.2 184.2,619.5 185.5,619.7 186.7,619.3 187.9,619.5 189.1,619.6 190.3,620.1 191.5,620.0 192.6,620.3 193.7,620.7 194.7,620.6 196.1,621.1 197.3,621.0 198.3,621.0 199.5,621.0 200.8,621.2 202.3,621.4 203.4,621.8 204.5,621.7 205.6,621.9 206.8,622.3 208.0,622.5 209.2,622.5 210.4,622.6 211.6,623.1 212.8,623.1 214.0,622.9 215.2,623.4 216.3,623.7 217.4,623.6 218.4,623.5 219.8,623.8 221.1,623.8 222.2,624.1 223.2,624.0 224.5,624.0 226.0,624.3 227.1,624.3 228.1,624.3 229.2,624.4 230.4,624.7 231.5,624.9 232.6,625.1 233.7,624.9 234.8,625.1 235.9,625.1 236.9,625.4 238.3,624.9 239.6,625.1 240.6,625.7 241.7,625.9 243.0,625.9 244.5,625.9 245.6,626.0 246.7,625.9 247.8,626.7 249.0,626.8 250.2,626.6 251.4,627.2 252.6,627.4 253.7,627.6 254.9,627.4 256.1,627.6 257.2,627.5 258.2,628.4 259.2,628.4 260.6,628.3 261.8,629.0 263.2,628.6 264.4,629.0 265.9,629.2 266.9,629.4 268.0,630.1 269.2,630.2 270.3,630.5 271.5,630.7 272.7,630.7 273.8,631.1 274.9,631.4 276.0,631.7 277.1,632.1 278.5,632.7 279.7,633.2 280.7,633.6 281.8,633.4 283.0,634.1 284.4,635.1 285.9,635.9 287.3,637.0 288.7,638.1 290.0,638.9 291.2,639.9 292.4,641.2 293.6,642.5 294.7,644.1 295.9,646.2 296.9,648.0 297.8,649.3 298.7,650.9 299.8,652.7 300.1,653.4 300.3,653.9 300.6,654.3 300.8,654.7 301.0,655.1 301.2,655.5 301.3,655.8 301.5,656.1 301.6,656.4 301.8,656.8 302.0,657.2 302.1,657.6 302.3,658.0 302.5,658.5 302.7,659.0 302.9,659.5 303.1,660.0 303.3,660.5 303.5,661.1 303.7,661.7 303.9,662.2 304.1,662.8 304.3,663.4 304.4,664.0 304.6,664.6 304.8,665.2 305.0,665.7 305.2,666.3 305.4,666.9 305.6,667.4 305.8,668.0 306.0,668.5 306.1,669.0 306.3,669.5 306.4,669.9 306.6,670.4 306.7,670.8 306.9,671.2 307.0,671.5 307.1,671.8 307.2,672.1 307.4,672.5 307.5,673.1 307.7,673.7 307.9,674.3 308.1,675.1 308.3,675.8 308.5,676.6 308.7,677.4 308.9,678.2 309.2,679.0 309.4,679.7 309.6,680.4 309.8,681.1 310.0,681.7 310.2,682.2 310.4,682.7 310.6,683.0 310.8,683.2 311.0,683.3 311.1,683.2 311.3,683.0 311.4,682.6 311.4,682.5 311.5,682.3 311.5,682.1 311.5,681.9 311.6,681.7 311.6,681.5 311.6,681.2 311.7,680.9 311.7,680.6 311.7,680.3 311.8,680.0 311.8,679.6 311.9,679.3 311.9,678.9 311.9,678.5 312.0,678.1 312.0,677.7 312.1,677.2 312.1,676.8 312.1,676.3 312.2,675.8 312.2,675.3 312.3,674.8 312.3,674.3 312.4,673.8 312.4,673.2 312.4,672.7 312.5,672.1 312.5,671.5 312.6,671.0 312.6,670.4 312.7,669.8 312.7,669.2 312.8,668.6 312.8,668.0 312.9,667.4 312.9,666.7 313.0,666.1 313.0,665.5 313.1,664.8 313.1,664.2 313.2,663.6 313.2,662.9 313.3,662.3 313.3,661.6 313.3,661.0 313.4,660.3 313.4,659.7 313.5,659.0 313.5,658.4 313.6,657.7 313.6,657.1 313.7,656.4 313.7,655.8 313.8,655.2 313.8,654.5 313.9,653.9 313.9,653.3 314.0,652.7 314.0,652.0 314.1,651.4 314.1,650.8 314.1,650.2 314.2,649.7 314.2,649.1 314.3,648.5 314.3,648.0 314.4,647.4 314.4,646.9 314.4,646.3 314.5,645.8 314.5,645.3 314.6,644.8 314.6,644.3 314.6,643.9 314.7,643.4 314.7,643.0 314.8,642.5 314.8,642.1 314.8,641.7 314.9,641.4 314.9,641.0 314.9,640.6 315.0,640.3 315.0,640.0 315.0,639.6 315.1,639.3 315.1,638.9 315.2,638.5 315.2,638.0 315.3,637.6 315.3,637.2 315.4,636.7 315.4,636.2 315.5,635.7 315.5,635.2 315.6,634.7 315.6,634.2 315.7,633.6 315.8,633.1 315.8,632.5 315.9,632.0 316.0,631.4 316.0,630.8 316.1,630.2 316.2,629.6 316.2,629.0 316.3,628.4 316.4,627.8 316.5,627.2 316.5,626.6 316.6,626.0 316.7,625.3 316.8,624.7 316.8,624.1 316.9,623.5 317.0,622.8 317.1,622.2 317.1,621.6 317.2,620.9 317.3,620.3 317.4,619.7 317.5,619.1 317.5,618.4 317.6,617.8 317.7,617.2 317.8,616.6 317.8,616.0 317.9,615.4 318.0,614.8 318.1,614.2 318.1,613.7 318.2,613.1 318.3,612.5 318.4,612.0 318.4,611.5 318.5,610.9 318.6,610.4 318.6,609.9 318.7,609.4 318.8,608.9 318.8,608.5 318.9,608.0 319.0,607.6 319.0,607.1 319.1,606.7 319.2,606.3 319.2,605.9 319.3,605.6 319.3,605.2 319.4,604.9 319.4,604.6 319.5,604.3 319.5,604.0 319.5,603.8 319.6,603.6 319.6,603.4 319.7,603.2 319.7,603.0 320.1,601.7 320.6,601.5 321.1,602.0 321.6,602.9 322.5,605.5 323.1,606.3 323.6,608.3 324.1,610.2 324.7,611.7 325.2,614.0 325.8,615.8 326.7,617.0 327.7,618.9 328.9,620.3 330.1,621.8 331.4,622.5 332.7,623.7 334.1,624.9 335.5,627.1 336.8,628.4 338.0,629.1 339.0,630.5 340.1,631.0 341.2,632.6 342.2,634.2 343.1,636.0 343.7,637.9 344.1,639.3 344.6,640.8 345.0,642.8 345.5,644.8 346.1,646.7 346.6,648.6 347.1,651.0 347.6,652.6 348.2,653.6 349.2,653.6 349.5,652.4 349.7,650.2 350.0,648.8 350.2,646.0 350.5,643.8 350.7,641.7 351.0,639.4 351.2,637.5 351.5,635.4 351.7,634.0 352.0,632.4 353.1,633.2 353.6,634.6 354.0,636.5 354.5,638.1 354.9,640.7 355.4,642.2 355.9,644.7 356.4,646.9 356.9,648.9 357.3,649.9 357.7,652.0 358.3,653.9 359.4,653.6 360.3,651.2 361.1,649.5 361.9,647.3 362.7,645.3 363.6,643.3 364.7,643.8 365.7,645.1 366.9,647.3 367.9,649.1 368.9,650.9 369.8,652.9 370.6,654.1 371.5,655.8 372.9,657.6 374.2,657.8 375.6,658.6 376.6,660.4 377.2,661.6 378.0,663.7 378.8,665.6 379.7,668.1 380.5,669.7 381.4,671.9 382.4,674.0 383.5,674.4 383.9,671.8 384.1,670.6 384.3,668.6 384.4,666.8 384.5,665.2 384.7,663.6 384.8,662.3 384.9,660.3 385.1,658.2 385.2,655.4 385.3,653.8 385.4,651.7 385.6,649.3 385.7,647.0 385.8,644.8 385.9,642.7 386.1,640.8 386.2,638.5 386.3,637.6 386.4,635.3 386.5,633.8 386.6,632.0 386.8,630.7 386.9,628.8 387.5,630.5 387.6,631.8 387.7,634.2 387.8,635.1 387.9,637.1 388.0,639.0 388.1,641.4 388.2,643.3 388.3,644.8 388.4,647.5 388.6,649.6 388.7,651.1 388.8,653.4 388.9,655.4 389.0,657.4 389.1,659.6 389.2,661.5 389.3,663.4 389.4,664.8 389.5,666.7 389.6,668.4 389.7,670.1 390.7,669.6 391.1,668.6 391.5,666.4 391.8,664.5 392.9,664.5 393.3,665.7 393.7,667.2 394.2,670.0 394.6,671.5 395.1,673.0 395.6,675.4 396.1,676.8 397.1,675.0 397.4,673.2 397.6,672.5 397.9,670.0 398.1,668.5 398.4,666.6 398.7,663.8 399.0,661.9 399.2,659.9 399.5,658.0 399.8,655.9 400.0,653.9 400.2,652.5 400.5,651.3 400.8,649.1 401.6,650.6 401.9,652.8 402.2,655.2 403.2,655.6 403.5,653.9 403.8,651.8 404.0,650.4 404.2,649.1 404.5,646.9 404.7,645.2 404.9,643.5 405.2,642.5 405.4,640.5 405.7,638.9 405.9,636.6 406.2,634.2 406.5,632.3 406.7,630.2 407.0,628.6 407.3,626.1 407.5,624.5 407.8,622.8 408.1,620.5 408.4,618.3 408.6,617.0 408.9,615.2 409.1,613.3 409.4,611.7 409.6,609.6 409.9,608.3 410.0,607.0 410.1,606.5 410.2,606.0 410.3,605.6 410.3,605.1 410.4,604.6 410.5,604.2 410.5,603.8 410.6,603.4 410.7,603.0 410.7,602.6 410.8,602.2 410.9,601.9 410.9,601.5 411.0,601.2 411.1,600.9 411.1,600.6 411.2,600.3 411.2,600.0 411.3,599.8 411.3,599.6 411.4,599.3 411.4,599.1 411.5,599.0 411.5,598.8 411.9,597.8 412.3,597.1 412.8,596.8 413.3,596.8 413.8,597.0 414.3,597.4 414.9,597.9 415.4,598.6 416.0,599.2 416.5,599.9 416.9,600.5 417.3,601.0 417.7,601.4 418.0,601.5 418.4,601.4 418.9,601.2 419.4,600.8 420.0,600.4 420.5,599.9 421.1,599.5 421.6,599.3 422.0,599.2 422.4,599.3 422.7,599.7 422.8,599.9 422.8,600.1 422.9,600.4 422.9,600.8 423.0,601.1 423.1,601.6 423.1,602.1 423.2,602.6 423.3,603.1 423.3,603.7 423.4,604.4 423.5,605.0 423.5,605.7 423.6,606.3 423.7,607.0 423.7,607.7 423.8,608.4 423.9,609.2 423.9,609.9 424.0,610.6 424.1,611.3 424.1,612.0 424.2,612.7 424.3,613.4 424.3,614.0 424.4,614.7 424.4,615.3 424.5,615.8 424.6,616.4 424.6,616.9 424.7,617.3 424.7,617.8 424.8,618.1 424.9,618.5 424.9,618.7 425.0,618.9 425.0,619.1 425.1,619.2 425.1,619.2 425.1,619.2 425.2,619.1 425.2,618.9 425.3,618.7 425.3,618.4 425.4,618.1 425.5,617.8 425.5,617.4 425.6,617.0 425.7,616.5 425.7,616.0 425.8,615.4 425.9,614.9 426.0,614.3 426.0,613.7 426.1,613.1 426.2,612.4 426.3,611.7 426.4,611.1 426.4,610.4 426.5,609.7 426.6,609.0 426.7,608.3 426.8,607.6 426.8,606.9 426.9,606.2 427.0,605.5 427.1,604.8 427.2,604.2 427.3,603.5 427.3,602.9 427.4,602.3 427.5,601.7 427.6,601.1 427.7,600.6 427.7,600.1 427.8,599.7 427.9,599.3 427.9,598.9 428.0,598.5 428.1,598.2 428.1,598.0 428.2,597.8 428.6,597.1 429.0,596.7 429.6,596.5 430.2,596.4 430.9,596.5 431.5,596.6 432.1,596.7 432.6,596.8 432.9,596.9 433.4,596.8 434.0,596.6 434.5,596.6 435.0,597.0 435.5,598.0 435.6,598.2 435.6,598.4 435.7,598.7 435.8,599.1 435.8,599.5 435.9,599.9 436.0,600.4 436.1,600.9 436.2,601.4 436.3,601.9 436.4,602.5 436.5,603.1 436.6,603.8 436.7,604.4 436.8,605.1 436.9,605.8 437.0,606.4 437.1,607.1 437.2,607.8 437.3,608.5 437.5,609.2 437.6,609.9 437.7,610.6 437.8,611.2 437.9,611.9 438.0,612.5 438.1,613.1 438.3,613.7 438.4,614.3 438.5,614.9 438.6,615.4 438.7,615.9 438.8,616.3 438.9,616.7 438.9,617.1 439.0,617.4 439.1,617.7 439.2,617.9 439.3,618.0 439.3,618.1 439.4,618.2 439.5,618.2 439.6,618.1 439.6,617.9 439.7,617.7 439.8,617.4 439.9,617.0 440.0,616.6 440.1,616.1 440.3,615.6 440.4,615.0 440.5,614.4 440.6,613.7 440.7,613.1 440.9,612.4 441.0,611.7 441.1,610.9 441.2,610.2 441.4,609.5 441.5,608.7 441.6,608.0 441.7,607.3 441.9,606.5 442.0,605.9 442.1,605.2 442.2,604.5 442.3,603.9 442.4,603.3 442.5,602.8 442.6,602.3 442.7,601.9 442.8,601.5 442.9,601.2 443.0,600.9 443.0,600.7 443.1,600.6 443.2,600.5 443.3,600.6 443.5,600.9 443.6,601.2 443.7,601.7 443.9,602.2 444.0,602.8 444.2,603.5 444.3,604.2 444.5,604.9 444.7,605.7 444.8,606.4 445.0,607.1 445.1,607.8 445.3,608.4 445.5,608.9 445.6,609.4 445.8,609.7 445.9,609.9 446.2,610.1 446.6,610.2 447.1,610.3 447.6,610.3 448.2,610.3 448.8,610.1 449.4,610.0 449.9,609.8 450.5,609.6 451.0,609.3 451.4,609.0 451.6,608.8 451.8,608.6 452.1,608.3 452.4,607.9 452.8,607.5 453.1,607.1 453.5,606.6 453.9,606.2 454.3,605.6 454.7,605.1 455.2,604.6 455.6,604.0 456.0,603.5 456.4,603.0 456.8,602.5 457.2,602.0 457.5,601.5 457.8,601.1 458.1,600.7 458.4,600.4 458.6,600.1 458.8,599.9 458.9,599.7" fill="none" stroke="#111" stroke-width="1.9" stroke-linejoin="round" stroke-linecap="round" />
<polyline points="24.5,630.6 24.6,630.8 24.7,631.0 24.8,631.3 24.9,631.6 25.1,631.9 25.2,632.3 25.4,632.7 25.6,633.2 25.8,633.7 26.0,634.2 26.2,634.7 26.4,635.3 26.7,635.8 26.9,636.4 27.2,637.0 27.4,637.6 27.7,638.2 27.9,638.8 28.2,639.4 28.4,640.0 28.7,640.6 28.9,641.2 29.1,641.8 29.4,642.4 29.6,642.9 29.8,643.4 30.6,644.8 31.2,646.6 31.9,648.8 32.4,650.4 32.9,652.4 33.3,654.8 33.8,656.5 34.3,656.7 35.5,658.7 36.8,660.7 37.8,661.8 38.3,663.0 38.7,664.6 39.2,665.8 39.7,668.7 40.1,670.8 40.5,671.6 41.0,673.5 41.4,675.8 41.9,677.3 42.9,676.7 44.4,675.6 45.6,674.4 47.1,675.3 48.2,677.2 49.3,674.9 49.8,672.8 50.2,671.6 51.2,672.1 51.7,674.7 52.2,676.5 52.6,677.0 53.0,679.6 53.5,682.8 54.0,684.1 54.5,685.2 55.6,684.2 55.8,684.2 56.1,681.9 56.4,679.9 56.7,676.5 56.9,674.8 57.2,673.8 58.5,674.0 59.8,675.5 60.9,674.7 61.9,672.6 62.7,674.9 63.0,677.0 63.3,678.0 63.6,680.5 64.6,678.1 65.0,677.8 65.4,674.7 65.7,673.3 66.1,671.5 66.4,668.4 67.2,671.6 67.3,673.8 67.4,673.8 67.5,676.6 67.6,679.1 67.7,680.6 68.4,679.0 68.6,676.5 68.9,674.4 69.2,671.4 69.4,670.9 70.4,672.1 70.9,674.2 71.4,675.6 72.9,677.2 74.2,676.2 75.2,676.9 75.9,678.5 76.6,681.5 77.4,683.2 78.4,684.1 79.3,685.1 80.3,686.8 81.5,688.6 82.7,690.0 83.8,691.6 84.9,692.7 86.0,693.8 87.2,695.4 88.4,695.9 89.7,697.4 91.0,699.0 92.4,700.2 93.5,700.7 94.9,701.1 96.0,700.4 97.2,700.3 98.3,700.1 99.4,699.2 100.6,697.5 101.8,696.5 103.0,694.4 104.0,692.6 104.8,690.9 105.6,689.3 106.5,687.3 107.8,685.6 109.0,684.0 110.2,683.4 111.3,682.7 112.7,681.7 114.0,680.8 115.1,680.4 116.1,679.6 117.6,678.9 118.6,678.8 119.8,678.7 121.2,678.0 122.3,677.5 123.5,677.6 124.7,677.3 125.9,676.8 127.0,676.9 128.1,676.4 129.2,676.5 130.5,675.8 131.6,676.2 132.9,676.1 133.9,676.6 135.0,676.7 136.1,676.8 137.3,676.8 138.5,677.2 139.7,677.0 140.8,677.6 142.2,677.6 143.3,678.3 144.6,679.4 145.7,680.3 146.8,681.4 148.0,682.4 149.1,683.6 150.1,685.2 151.2,686.4 152.5,687.5 153.7,689.0 155.1,690.2 156.5,691.7 157.9,692.4 159.1,693.5 160.2,694.6 161.2,694.4 162.5,692.9 163.4,691.5 164.4,689.6 165.2,687.9 166.6,687.2 168.0,688.7 169.3,690.0 170.5,688.6 171.4,686.7 172.5,685.0 173.5,684.9 174.6,684.5 176.0,685.0 177.0,685.2 178.2,686.2 179.4,686.1 180.6,686.7 181.8,687.0 182.9,687.9 184.0,688.2 185.3,688.3 186.3,688.9 187.5,689.1 188.9,689.2 190.0,690.0 191.0,690.3 192.1,690.7 193.2,691.2 194.3,691.4 195.4,691.7 196.5,691.8 197.5,692.0 198.5,692.3 199.6,692.7 200.8,692.8 202.2,692.4 203.2,692.9 204.3,693.4 205.4,692.9 206.6,693.3 207.8,693.4 209.0,694.1 210.2,693.8 211.4,694.4 212.7,694.1 213.9,694.9 215.0,694.7 216.2,695.3 217.3,695.4 218.4,695.4 219.8,695.4 221.1,695.6 222.2,696.0 223.2,695.6 224.5,696.0 226.0,696.1 227.1,696.0 228.1,696.1 229.2,696.1 230.4,696.1 231.5,696.5 232.6,696.7 233.7,696.9 234.8,696.9 235.9,696.8 236.9,697.1 238.3,697.2 239.6,696.8 240.6,697.3 241.7,697.5 243.0,697.7 244.5,697.6 245.5,697.9 246.6,697.5 247.8,697.9 248.9,698.1 250.1,698.1 251.3,698.2 252.5,698.1 253.7,698.8 254.9,698.7 256.0,698.7 257.1,698.6 258.2,699.4 259.3,699.1 260.7,699.6 262.0,699.2 263.1,699.5 264.2,699.8 265.5,699.4 266.9,700.0 268.0,699.6 269.1,700.1 270.2,700.3 271.4,700.1 272.6,700.5 273.8,699.9 275.1,700.2 276.3,700.7 277.6,700.2 278.8,700.4 280.1,700.5 281.3,700.9 282.4,700.9 283.5,701.2 284.6,700.8 285.6,700.7 287.0,701.2 288.2,700.8 289.2,701.1 290.6,701.2 291.9,701.3 293.1,701.4 294.3,701.9 295.3,701.9 296.8,702.2 298.0,703.0 299.3,703.5 300.3,703.7 300.8,703.9 301.3,704.2 301.8,704.5 302.3,704.8 302.8,705.1 303.3,705.5 303.7,705.8 304.0,706.2 304.3,706.6 304.4,706.8 304.6,707.1 304.7,707.4 304.9,707.8 305.1,708.2 305.2,708.6 305.4,709.0 305.6,709.5 305.8,710.0 305.9,710.5 306.1,711.1 306.3,711.6 306.5,712.2 306.7,712.8 306.8,713.3 307.0,713.9 307.1,714.5 307.3,715.1 307.4,715.7 307.6,716.2 307.7,716.8 307.8,717.3 307.8,717.6 307.9,717.9 307.9,718.2 308.0,718.6 308.1,719.0 308.1,719.5 308.2,720.0 308.2,720.5 308.3,721.1 308.4,721.7 308.4,722.3 308.5,722.9 308.6,723.6 308.6,724.3 308.7,725.0 308.8,725.7 308.8,726.4 308.9,727.2 309.0,727.9 309.1,728.7 309.1,729.4 309.2,730.2 309.3,730.9 309.4,731.7 309.5,732.4 309.5,733.1 309.6,733.9 309.7,734.6 309.8,735.3 309.9,735.9 309.9,736.6 310.0,737.2 310.1,737.9 310.2,738.4 310.3,739.0 310.3,739.5 310.4,740.0 310.5,740.5 310.6,740.9 310.7,741.3 310.7,741.6 310.8,741.9 310.9,742.1 311.0,742.3 311.0,742.5 311.1,742.5 311.2,742.6 311.3,742.5 311.3,742.5 311.4,742.3 311.4,742.2 311.5,742.1 311.5,741.9 311.5,741.8 311.6,741.6 311.6,741.4 311.7,741.2 311.7,741.0 311.8,740.7 311.8,740.4 311.9,740.1 311.9,739.8 312.0,739.5 312.0,739.2 312.1,738.8 312.1,738.4 312.2,738.1 312.3,737.7 312.3,737.2 312.4,736.8 312.5,736.4 312.5,735.9 312.6,735.4 312.7,735.0 312.7,734.5 312.8,733.9 312.9,733.4 312.9,732.9 313.0,732.4 313.1,731.8 313.2,731.3 313.2,730.7 313.3,730.1 313.4,729.5 313.5,728.9 313.5,728.3 313.6,727.7 313.7,727.1 313.8,726.5 313.9,725.8 313.9,725.2 314.0,724.5 314.1,723.9 314.2,723.2 314.3,722.6 314.4,721.9 314.4,721.3 314.5,720.6 314.6,719.9 314.7,719.2 314.8,718.6 314.9,717.9 314.9,717.2 315.0,716.5 315.1,715.8 315.2,715.1 315.3,714.5 315.4,713.8 315.4,713.1 315.5,712.4 315.6,711.7 315.7,711.1 315.8,710.4 315.9,709.7 315.9,709.0 316.0,708.4 316.1,707.7 316.2,707.1 316.3,706.4 316.3,705.8 316.4,705.1 316.5,704.5 316.6,703.8 316.6,703.2 316.7,702.6 316.8,702.0 316.9,701.4 316.9,700.8 317.0,700.2 317.1,699.6 317.2,699.1 317.2,698.5 317.3,698.0 317.4,697.4 317.4,696.9 317.5,696.4 317.6,695.9 317.6,695.4 317.7,694.9 317.7,694.4 317.8,694.0 317.8,693.5 317.9,693.1 318.0,692.7 318.0,692.3 318.1,691.9 318.1,691.6 318.2,691.2 318.2,690.9 318.2,690.5 318.3,690.2 318.3,690.0 318.4,689.7 318.4,689.4 318.4,689.2 318.5,689.0 318.5,688.8 318.7,687.6 318.9,686.5 319.1,685.6 319.4,684.8 319.6,684.2 319.8,683.6 320.0,683.2 320.2,682.9 320.3,682.6 320.5,682.4 320.7,682.2 320.8,682.0 321.0,681.9 321.1,681.8 321.2,681.7 321.6,681.4 322.1,681.5 322.6,682.1 323.0,683.0 323.1,683.2 323.1,683.5 323.2,683.8 323.3,684.2 323.4,684.7 323.5,685.2 323.6,685.7 323.7,686.2 323.8,686.8 323.9,687.5 324.0,688.1 324.1,688.7 324.2,689.4 324.3,690.0 324.5,690.7 324.6,691.3 324.7,691.9 324.8,692.5 324.9,693.1 325.2,694.3 325.8,696.2 327.0,698.7 328.2,699.2 329.2,700.7 330.4,701.2 331.5,700.6 332.7,701.1 333.9,701.9 335.0,701.7 336.3,702.0 337.9,702.4 339.1,702.2 340.4,701.1 341.7,701.3 342.7,700.0 343.9,698.8 344.9,698.3 345.8,699.8 346.3,701.0 346.8,703.6 347.3,705.4 347.8,707.1 348.4,709.1 349.3,707.1 349.6,705.8 349.9,704.3 350.2,702.2 350.5,699.4 350.8,697.2 351.1,695.5 351.5,693.7 351.8,691.8 352.2,689.8 353.2,690.1 353.7,691.1 354.1,693.3 354.5,694.7 355.0,696.9 355.5,698.5 355.9,701.0 356.4,702.6 356.9,705.1 357.3,706.7 357.7,708.1 358.1,710.2 359.4,710.8 360.6,709.1 361.6,706.9 362.5,705.4 363.5,704.0 364.6,704.5 365.6,704.5 366.8,704.7 367.9,703.6 368.9,702.7 370.1,704.4 370.9,706.3 371.8,708.2 372.7,709.6 373.8,711.4 374.7,709.5 375.3,707.0 376.0,705.5 376.7,703.7 377.8,703.5 378.7,705.9 379.5,707.3 380.4,710.1 381.3,712.1 382.2,713.5 383.2,715.7 384.3,714.8 384.6,713.3 384.8,711.2 385.0,709.9 385.1,708.4 385.3,706.1 385.5,704.3 385.7,701.6 385.8,699.9 386.0,697.5 386.2,695.3 386.4,693.5 386.5,691.3 386.7,689.7 386.9,688.0 387.0,685.6 387.2,683.9 387.4,682.8 387.7,680.7 388.1,682.2 388.3,684.5 388.5,686.0 388.6,688.2 388.8,689.8 388.9,691.6 389.1,694.0 389.3,696.5 389.4,698.2 389.6,699.9 389.7,702.2 389.9,704.8 390.0,706.0 390.2,708.1 390.3,709.6 390.5,711.2 390.6,713.7 391.7,712.6 392.2,710.0 393.3,710.4 393.8,712.8 394.2,714.2 394.6,715.9 395.2,717.6 396.2,717.2 396.5,715.8 396.8,713.9 397.1,712.2 397.3,710.8 397.6,708.3 397.9,706.7 398.2,704.9 398.4,702.7 398.7,700.8 399.0,699.0 399.3,696.6 399.5,694.6 399.7,693.6 400.0,691.5 400.3,690.0 401.6,692.1 402.6,691.4 403.1,689.9 403.5,688.1 403.8,685.7 404.3,684.1 404.6,682.2 404.9,681.3 405.3,679.3 405.7,677.4 406.1,674.9 406.5,673.1 406.9,670.9 407.3,669.7 407.7,667.3 408.2,665.2 408.6,663.6 409.0,661.5 409.4,659.5 409.8,657.4 410.1,656.4 410.2,655.8 410.3,655.2 410.4,654.7 410.6,654.1 410.7,653.6 410.8,653.0 410.9,652.5 411.1,652.0 411.2,651.5 411.3,651.0 411.4,650.6 411.5,650.1 411.6,649.7 411.7,649.3 411.8,648.9 411.9,648.5 412.0,648.1 412.1,647.8 412.2,647.4 412.3,647.1 412.4,646.8 412.5,646.6 412.5,646.3 412.6,646.1 412.7,645.8 412.8,645.7 412.8,645.5 412.9,645.3 412.9,645.2 413.0,645.1 413.1,644.9 413.3,644.8 413.4,644.8 413.5,644.9 413.7,645.0 413.8,645.2 414.0,645.5 414.1,645.8 414.3,646.2 414.4,646.6 414.6,647.1 414.7,647.6 414.9,648.2 415.0,648.8 415.2,649.5 415.3,650.1 415.5,650.8 415.6,651.5 415.8,652.3 415.9,653.0 416.1,653.7 416.2,654.5 416.4,655.3 416.5,656.0 416.6,656.8 416.8,657.5 416.9,658.3 417.1,659.0 417.2,659.7 417.3,660.3 417.4,661.0 417.5,661.6 417.7,662.2 417.8,662.7 417.9,663.2 418.0,663.6 418.1,664.0 418.1,664.3 418.2,664.6 418.3,664.8 418.8,665.5 419.3,665.8 419.9,665.9 420.5,665.8 421.0,665.8 421.5,666.0 421.9,666.5 422.0,666.7 422.1,667.0 422.2,667.4 422.3,667.8 422.4,668.3 422.5,668.8 422.6,669.4 422.7,670.0 422.8,670.6 422.9,671.3 423.0,672.0 423.2,672.7 423.3,673.4 423.4,674.1 423.6,674.8 423.7,675.5 423.8,676.2 423.9,676.8 424.1,677.4 424.2,678.0 424.3,678.6 424.4,679.1 424.5,679.5 424.6,679.9 424.7,680.3 424.8,680.5 424.9,680.7 425.0,680.8 425.1,680.8 425.2,680.7 425.2,680.6 425.3,680.4 425.4,680.2 425.5,679.9 425.6,679.5 425.7,679.1 425.8,678.7 425.9,678.2 426.0,677.7 426.2,677.1 426.3,676.5 426.4,675.9 426.5,675.3 426.6,674.6 426.8,674.0 426.9,673.3 427.0,672.6 427.2,671.9 427.3,671.3 427.4,670.6 427.5,669.9 427.7,669.2 427.8,668.6 427.9,667.9 428.0,667.3 428.2,666.7 428.3,666.1 428.4,665.6 428.5,665.1 428.6,664.6 428.7,664.2 428.8,663.8 428.9,663.5 428.9,663.2 429.0,663.0 429.3,662.3 429.6,661.7 430.0,661.2 430.4,660.7 430.8,660.3 431.2,660.0 431.6,659.7 432.0,659.6 432.3,659.4 432.6,659.4 432.9,659.5 433.2,659.6 433.7,659.8 434.1,660.1 434.6,660.5 435.1,660.9 435.6,661.3 436.0,661.7 436.4,662.2 436.7,662.6 437.0,663.0 437.1,663.3 437.2,663.6 437.4,664.1 437.5,664.5 437.6,665.1 437.8,665.7 437.9,666.3 438.1,667.0 438.2,667.7 438.3,668.3 438.5,669.0 438.6,669.6 438.8,670.3 438.9,670.8 439.1,671.4 439.2,671.8 439.3,672.2 439.5,672.5 439.6,672.7 439.7,672.8 439.9,672.8 440.1,672.6 440.3,672.3 440.6,671.8 440.9,671.3 441.3,670.7 441.6,670.1 442.0,669.5 442.3,668.8 442.6,668.1 443.0,667.5 443.3,666.9 443.6,666.4 443.8,666.0 444.0,665.7 444.2,665.6 444.5,665.6 444.8,665.9 445.1,666.4 445.5,667.0 445.8,667.7 446.1,668.3 446.5,668.8 446.8,669.2 447.1,669.4 447.4,669.6 447.9,669.9 448.3,670.2 448.9,670.5 449.4,670.8 450.0,671.1 450.5,671.3 451.0,671.5 451.5,671.7 451.9,671.8 452.2,671.9 452.6,671.8 453.1,671.6 453.6,671.3 454.2,671.0 454.8,670.6 455.4,670.3 455.9,670.1 456.3,670.0 456.6,670.1 456.8,670.3 457.0,670.6 457.1,671.1 457.4,671.6 457.6,672.2 457.8,672.9 458.0,673.6 458.2,674.3 458.4,674.9 458.5,675.6 458.7,676.1 458.8,676.6 458.9,677.0 459.0,677.2" fill="none" stroke="#111" stroke-width="1.9" stroke-linejoin="round" stroke-linecap="round" />
<text x="26.2" y="415.5" font-size="11.5" text-anchor="start" fill="#111" font-weight="bold" stroke="#111" stroke-width="0.3">6</text>
<text x="26.2" y="470" font-size="11.5" text-anchor="start" fill="#111" font-weight="bold" stroke="#111" stroke-width="0.3">5</text>
<text x="26.2" y="508" font-size="11.5" text-anchor="start" fill="#111" font-weight="bold" stroke="#111" stroke-width="0.3">4</text>
<text x="26.2" y="566" font-size="11.5" text-anchor="start" fill="#111" font-weight="bold" stroke="#111" stroke-width="0.3">3</text>
<text x="26.2" y="615.4" font-size="11.5" text-anchor="start" fill="#111" font-weight="bold" stroke="#111" stroke-width="0.3">2</text>
<text x="26.2" y="672.3" font-size="11.5" text-anchor="start" fill="#111" font-weight="bold" stroke="#111" stroke-width="0.3">1</text>
<text x="137.75" y="436.5" font-size="11.2" text-anchor="middle" fill="#e4242a" font-weight="normal" textLength="24.7" lengthAdjust="spacingAndGlyphs" stroke="#e4242a" stroke-width="0.35">2999</text>
<text x="166.85" y="432" font-size="11.2" text-anchor="middle" fill="#e4242a" font-weight="normal" textLength="24.3" lengthAdjust="spacingAndGlyphs" stroke="#e4242a" stroke-width="0.35">2948</text>
<text x="74.5" y="483" font-size="11.2" text-anchor="middle" fill="#e4242a" font-weight="normal" textLength="24.8" lengthAdjust="spacingAndGlyphs" stroke="#e4242a" stroke-width="0.35">3505</text>
<text x="91.6" y="529.4" font-size="11.2" text-anchor="middle" fill="#e4242a" font-weight="normal" textLength="24.4" lengthAdjust="spacingAndGlyphs" stroke="#e4242a" stroke-width="0.35">3423</text>
<text x="72.3" y="575.3" font-size="11.2" text-anchor="middle" fill="#e4242a" font-weight="normal" textLength="24.0" lengthAdjust="spacingAndGlyphs" stroke="#e4242a" stroke-width="0.35">3505</text>
<text x="102.35" y="575.3" font-size="11.2" text-anchor="middle" fill="#e4242a" font-weight="normal" textLength="24.7" lengthAdjust="spacingAndGlyphs" stroke="#e4242a" stroke-width="0.35">3423</text>
<text x="138.45" y="584.5" font-size="11.2" text-anchor="middle" fill="#e4242a" font-weight="normal" textLength="24.1" lengthAdjust="spacingAndGlyphs" stroke="#e4242a" stroke-width="0.35">2999</text>
<text x="166.85" y="580" font-size="11.2" text-anchor="middle" fill="#e4242a" font-weight="normal" textLength="24.3" lengthAdjust="spacingAndGlyphs" stroke="#e4242a" stroke-width="0.35">2948</text>
<text x="93.45" y="636.4" font-size="11.2" text-anchor="middle" fill="#e4242a" font-weight="normal" textLength="24.1" lengthAdjust="spacingAndGlyphs" stroke="#e4242a" stroke-width="0.35">3425</text>
<text x="140.45" y="639" font-size="11.2" text-anchor="middle" fill="#e4242a" font-weight="normal" textLength="24.1" lengthAdjust="spacingAndGlyphs" stroke="#e4242a" stroke-width="0.35">2999</text>
<text x="169.45" y="634.5" font-size="11.2" text-anchor="middle" fill="#e4242a" font-weight="normal" textLength="24.1" lengthAdjust="spacingAndGlyphs" stroke="#e4242a" stroke-width="0.35">2948</text>
<text x="95.0" y="713.7" font-size="11.2" text-anchor="middle" fill="#e4242a" font-weight="normal" textLength="24.6" lengthAdjust="spacingAndGlyphs" stroke="#e4242a" stroke-width="0.35">3425</text>
<text x="160.25" y="707.5" font-size="11.2" text-anchor="middle" fill="#e4242a" font-weight="normal" textLength="24.1" lengthAdjust="spacingAndGlyphs" stroke="#e4242a" stroke-width="0.35">2922</text>
<text x="292.75" y="480" font-size="11.2" text-anchor="middle" fill="#e4242a" font-weight="normal" textLength="24.1" lengthAdjust="spacingAndGlyphs" stroke="#e4242a" stroke-width="0.35">1754</text>
<text x="293.0" y="520.5" font-size="11.2" text-anchor="middle" fill="#e4242a" font-weight="normal" textLength="24.6" lengthAdjust="spacingAndGlyphs" stroke="#e4242a" stroke-width="0.35">1756</text>
<text x="294.65" y="567.3" font-size="11.2" text-anchor="middle" fill="#e4242a" font-weight="normal" textLength="23.3" lengthAdjust="spacingAndGlyphs" stroke="#e4242a" stroke-width="0.35">1754</text>
<text x="294.35" y="632.2" font-size="11.2" text-anchor="middle" fill="#e4242a" font-weight="normal" textLength="22.7" lengthAdjust="spacingAndGlyphs" stroke="#e4242a" stroke-width="0.35">1756</text>
<text x="301.75" y="692.4" font-size="11.2" text-anchor="middle" fill="#e4242a" font-weight="normal" textLength="24.1" lengthAdjust="spacingAndGlyphs" stroke="#e4242a" stroke-width="0.35">1756</text>
<text x="296.9" y="749.5" font-size="11.2" text-anchor="middle" fill="#e4242a" font-weight="normal" textLength="23.4" lengthAdjust="spacingAndGlyphs" stroke="#e4242a" stroke-width="0.35">1756</text>
<text x="0" y="0" font-size="11.2" fill="#e4242a" stroke="#e4242a" stroke-width="0.35" textLength="18.2" lengthAdjust="spacingAndGlyphs" transform="translate(420.5,527.1) rotate(-90)">908</text>
<text x="0" y="0" font-size="11.2" fill="#e4242a" stroke="#e4242a" stroke-width="0.35" textLength="16.7" lengthAdjust="spacingAndGlyphs" transform="translate(430.4,639.6) rotate(-90)">867</text>
<text x="0" y="0" font-size="11.2" fill="#e4242a" stroke="#e4242a" stroke-width="0.35" textLength="16.7" lengthAdjust="spacingAndGlyphs" transform="translate(443.4,636.8) rotate(-90)">755</text>
<text x="0" y="0" font-size="11.2" fill="#e4242a" stroke="#e4242a" stroke-width="0.35" textLength="23.1" lengthAdjust="spacingAndGlyphs" transform="translate(344.5,666.5) rotate(-90)">1459</text>
<text x="0" y="0" font-size="11.2" fill="#e4242a" stroke="#e4242a" stroke-width="0.35" textLength="22.8" lengthAdjust="spacingAndGlyphs" transform="translate(359.5,678.0) rotate(-90)">1387</text>
<text x="0" y="0" font-size="11.2" fill="#e4242a" stroke="#e4242a" stroke-width="0.35" textLength="22.6" lengthAdjust="spacingAndGlyphs" transform="translate(380.6,694.5) rotate(-90)">1186</text>
<text x="0" y="0" font-size="11.2" fill="#e4242a" stroke="#e4242a" stroke-width="0.35" textLength="23.2" lengthAdjust="spacingAndGlyphs" transform="translate(343.0,732.5) rotate(-90)">1517</text>
<text x="0" y="0" font-size="11.2" fill="#e4242a" stroke="#e4242a" stroke-width="0.35" textLength="23.2" lengthAdjust="spacingAndGlyphs" transform="translate(354.2,737.0) rotate(-90)">1462</text>
<text x="0" y="0" font-size="11.2" fill="#e4242a" stroke="#e4242a" stroke-width="0.35" textLength="23.1" lengthAdjust="spacingAndGlyphs" transform="translate(365.3,736.0) rotate(-90)">1384</text>
<text x="0" y="0" font-size="11.2" fill="#e4242a" stroke="#e4242a" stroke-width="0.35" textLength="23.2" lengthAdjust="spacingAndGlyphs" transform="translate(376.9,737.0) rotate(-90)">1266</text>
<text x="0" y="0" font-size="11.2" fill="#e4242a" stroke="#e4242a" stroke-width="0.35" textLength="23.2" lengthAdjust="spacingAndGlyphs" transform="translate(387.6,743.2) rotate(-90)">1189</text>
<text x="0" y="0" font-size="11.2" fill="#e4242a" stroke="#e4242a" stroke-width="0.35" textLength="23.7" lengthAdjust="spacingAndGlyphs" transform="translate(398.3,745.5) rotate(-90)">1120</text>
<text x="0" y="0" font-size="11.2" fill="#e4242a" stroke="#e4242a" stroke-width="0.35" textLength="22.8" lengthAdjust="spacingAndGlyphs" transform="translate(408.1,749.0) rotate(-90)">1090</text>
<text x="0" y="0" font-size="11.2" fill="#e4242a" stroke="#e4242a" stroke-width="0.35" textLength="23.0" lengthAdjust="spacingAndGlyphs" transform="translate(409.0,719.0) rotate(-90)">1043</text>
<text x="0" y="0" font-size="11.2" fill="#e4242a" stroke="#e4242a" stroke-width="0.35" textLength="17.8" lengthAdjust="spacingAndGlyphs" transform="translate(428.6,701.3) rotate(-90)">867</text>
<text x="0" y="0" font-size="11.2" fill="#e4242a" stroke="#e4242a" stroke-width="0.35" textLength="17.9" lengthAdjust="spacingAndGlyphs" transform="translate(443.3,694.2) rotate(-90)">754</text>
<text x="0" y="0" font-size="11.2" fill="#e4242a" stroke="#e4242a" stroke-width="0.35" textLength="17.8" lengthAdjust="spacingAndGlyphs" transform="translate(453.5,690.6) rotate(-90)">653</text>
<text x="0" y="0" font-size="11.2" fill="#e4242a" stroke="#e4242a" stroke-width="0.35" textLength="17.8" lengthAdjust="spacingAndGlyphs" transform="translate(462.6,698.6) rotate(-90)">593</text>
<text x="523.6" y="392.8" font-size="20" text-anchor="start" fill="#111" font-weight="bold" >D</text>
<text x="0" y="0" font-size="10.5" fill="#2a2a2a" textLength="20.8" lengthAdjust="spacingAndGlyphs" transform="translate(528.6,438.3) rotate(-90)">ppm</text>
<text x="0" y="0" font-size="10" fill="#2a2a2a" textLength="37.6" lengthAdjust="spacingAndGlyphs" transform="translate(538.8,438.3) rotate(-90)">5.10424</text>
<text x="0" y="0" font-size="10" fill="#2a2a2a" textLength="37.6" lengthAdjust="spacingAndGlyphs" transform="translate(548.7,438.3) rotate(-90)">5.08192</text>
<text x="0" y="0" font-size="10" fill="#2a2a2a" textLength="37.6" lengthAdjust="spacingAndGlyphs" transform="translate(559.6,438.3) rotate(-90)">5.05968</text>
<text x="0" y="0" font-size="10" fill="#2a2a2a" textLength="37.6" lengthAdjust="spacingAndGlyphs" transform="translate(568.6,438.3) rotate(-90)">5.03742</text>
<text x="0" y="0" font-size="10" fill="#2a2a2a" textLength="34.7" lengthAdjust="spacingAndGlyphs" transform="translate(981.6,434.0) rotate(-90)">1.65350</text>
<text x="0" y="0" font-size="10" fill="#2a2a2a" textLength="34.7" lengthAdjust="spacingAndGlyphs" transform="translate(992.0,434.0) rotate(-90)">1.63118</text>
<path d="M537.7,438.5 L537.7,442 L531.9,454 L531.9,459.5" fill="none" stroke="#777" stroke-width="1.5" stroke-linejoin="round"/>
<path d="M547.2,438.5 L547.2,442 L534.7,454 L534.7,459.5" fill="none" stroke="#777" stroke-width="1.5" stroke-linejoin="round"/>
<path d="M556.7,438.5 L556.7,442 L537.7,454 L537.7,459.5" fill="none" stroke="#777" stroke-width="1.5" stroke-linejoin="round"/>
<path d="M566.3,438.5 L566.3,442 L540.7,454 L540.7,459.5" fill="none" stroke="#777" stroke-width="1.5" stroke-linejoin="round"/>
<path d="M979.2,436.5 L979.2,440 L988.7,452.3 L988.7,456.6" fill="none" stroke="#777" stroke-width="1.5"/>
<path d="M989,436.5 L989,445 L992.4,452 L992.4,456.6" fill="none" stroke="#777" stroke-width="1.5"/>
<line x1="975" y1="436.2" x2="983" y2="436.2" stroke="#555" stroke-width="1" />
<line x1="985" y1="436.2" x2="993" y2="436.2" stroke="#555" stroke-width="1" />
<polyline points="523.9,712.6 524.1,712.6 524.4,712.6 524.6,712.6 524.9,712.6 525.1,712.6 525.4,712.6 525.6,712.6 525.9,712.5 526.1,712.5 526.4,712.5 526.6,712.5 526.9,712.5 527.1,712.4 527.4,712.4 527.6,712.4 527.9,712.4 528.1,712.3 528.4,712.3 528.6,712.2 528.9,712.2 529.1,712.1 529.4,712.0 529.6,711.9 529.9,711.8 530.1,711.6 530.4,711.4 530.6,711.1 530.9,710.7 531.1,710.0 531.4,708.9 531.6,706.9 531.9,703.0 532.1,696.8 532.4,695.6 532.6,701.2 532.9,705.2 533.1,706.8 533.4,707.3 533.6,706.8 533.9,705.5 534.1,702.9 534.4,697.8 534.6,687.5 534.9,669.5 535.1,660.6 535.4,677.2 535.6,692.1 535.9,699.7 536.1,703.4 536.4,705.2 536.6,705.8 536.9,705.5 537.1,704.2 537.4,701.5 537.6,695.7 537.9,684.0 538.1,665.3 538.4,662.3 538.6,680.9 538.9,694.5 539.1,701.3 539.4,704.9 539.6,706.7 539.9,707.7 540.1,708.1 540.4,708.0 540.6,707.1 540.9,705.0 541.1,700.4 541.4,694.0 541.6,695.3 541.9,702.1 542.1,706.4 542.4,708.7 542.6,709.9 542.9,710.6 543.1,711.0 543.4,711.3 543.6,711.6 543.9,711.7 544.1,711.8 544.4,711.9 544.6,712.0 544.9,712.1 545.1,712.2 545.4,712.2 545.6,712.2 545.9,712.3 546.1,712.3 546.4,712.3 546.6,712.4 546.9,712.4 547.1,712.4 547.4,712.4 547.6,712.4 547.9,712.4 548.1,712.4 549.6,712.5 551.1,712.5 552.6,712.6 554.1,712.6 555.6,712.6 557.1,712.6 558.6,712.6 560.1,712.6 561.6,712.6 563.1,712.6 564.6,712.6 566.1,712.6 567.6,712.6 569.1,712.6 570.6,712.5 572.1,712.5 573.6,712.5 575.1,712.5 576.6,712.5 578.1,712.5 579.6,712.5 581.1,712.5 582.6,712.5 584.1,712.5 585.6,712.5 587.1,712.5 588.6,712.5 590.1,712.5 591.6,712.5 593.1,712.5 594.6,712.4 596.1,712.4 597.6,712.4 599.1,712.4 600.6,712.4 602.1,712.4 603.6,712.4 605.1,712.4 606.6,712.4 608.1,712.4 609.6,712.4 611.1,712.4 612.6,712.4 614.1,712.4 615.6,712.3 617.1,712.3 618.6,712.3 620.1,712.3 621.6,712.3 623.1,712.3 624.6,712.3 626.1,712.3 627.6,712.3 629.1,712.3 630.6,712.3 632.1,712.3 633.6,712.3 635.1,712.3 636.6,712.2 638.1,712.2 639.6,712.2 641.1,712.2 642.6,712.2 644.1,712.2 645.6,712.2 647.1,712.2 648.6,712.2 650.1,712.2 651.6,712.2 653.1,712.2 654.6,712.2 656.1,712.2 657.6,712.1 659.1,712.1 660.6,712.1 662.1,712.1 663.6,712.1 665.1,712.1 666.6,712.1 668.1,712.1 669.6,712.1 671.1,712.1 672.6,712.1 674.1,712.1 675.6,712.1 677.1,712.0 678.6,712.0 680.1,712.0 681.6,712.0 683.1,712.0 684.6,712.0 686.1,712.0 687.6,712.0 689.1,712.0 690.6,712.0 692.1,712.0 693.6,712.0 695.1,712.0 696.6,712.0 698.1,711.9 699.6,711.9 701.1,711.9 702.6,711.9 704.1,711.9 705.6,711.9 707.1,711.9 708.6,711.9 710.1,711.9 711.6,711.9 713.1,711.9 714.6,711.9 716.1,711.9 717.6,711.9 719.1,711.8 720.6,711.8 722.1,711.8 723.6,711.8 725.1,711.8 726.6,711.8 728.1,711.8 729.6,711.8 731.1,711.8 732.6,711.8 734.1,711.8 735.6,711.8 737.1,711.8 738.6,711.7 740.1,711.7 741.6,711.7 743.1,711.7 744.6,711.7 746.1,711.7 747.6,711.7 749.1,711.7 750.6,711.7 752.1,711.7 753.6,711.7 755.1,711.7 756.6,711.7 758.1,711.7 759.6,711.6 761.1,711.6 762.6,711.6 764.1,711.6 765.6,711.6 767.1,711.6 768.6,711.6 770.1,711.6 771.6,711.6 773.1,711.6 774.6,711.6 776.1,711.6 777.6,711.6 779.1,711.5 780.6,711.5 782.1,711.5 783.6,711.5 785.1,711.5 786.6,711.5 788.1,711.5 789.6,711.5 791.1,711.5 792.6,711.5 794.1,711.5 795.6,711.5 797.1,711.5 798.6,711.5 800.1,711.4 801.6,711.4 803.1,711.4 804.6,711.4 806.1,711.4 807.6,711.4 809.1,711.4 810.6,711.4 812.1,711.4 813.6,711.4 815.1,711.4 816.6,711.4 818.1,711.4 819.6,711.4 821.1,711.3 822.6,711.3 824.1,711.3 825.6,711.3 827.1,711.3 828.6,711.3 830.1,711.3 831.6,711.3 833.1,711.3 834.6,711.3 836.1,711.3 837.6,711.3 839.1,711.3 840.6,711.2 842.1,711.2 843.6,711.2 845.1,711.2 846.6,711.2 848.1,711.2 849.6,711.2 851.1,711.2 852.6,711.2 854.1,711.2 855.6,711.2 857.1,711.2 858.6,711.2 860.1,711.2 861.6,711.1 863.1,711.1 864.6,711.1 866.1,711.1 867.6,711.1 869.1,711.1 870.6,711.1 872.1,711.1 873.6,711.1 875.1,711.1 876.6,711.1 878.1,711.1 879.6,711.1 881.1,711.0 882.6,711.0 884.1,711.0 885.6,711.0 887.1,711.0 888.6,711.0 890.1,711.0 891.6,711.0 893.1,711.0 894.6,711.0 896.1,711.0 897.6,711.0 899.1,711.0 900.6,711.0 902.1,710.9 903.6,710.9 905.1,710.9 906.6,710.9 908.1,710.9 909.6,710.9 911.1,710.9 912.6,710.9 914.1,710.9 915.6,710.9 917.1,710.9 918.6,710.9 920.1,710.9 921.6,710.9 923.1,710.8 924.6,710.8 926.1,710.8 927.6,710.8 929.1,710.8 930.6,710.8 932.1,710.8 933.6,710.8 935.1,710.8 936.6,710.8 938.1,710.8 939.6,710.8 941.1,710.8 942.6,710.7 944.1,710.7 945.6,710.7 947.1,710.7 948.6,710.7 950.1,710.7 951.6,710.7 953.1,710.7 954.6,710.7 956.1,710.7 957.6,710.7 959.1,710.7 960.6,709.8 962.1,709.8 963.6,709.7 965.1,709.7 966.6,710.6 968.1,710.6 969.6,710.6 971.1,710.6 972.6,710.6 974.1,710.6 975.6,710.6 977.1,710.6 978.6,710.6 980.1,710.6 981.6,710.6 983.1,710.6 984.6,710.5 986.1,710.5 987.6,710.5 989.1,710.5 988.3,710.6 989.0,709.0 989.5,476.0 990.3,560.0 991.0,640.0 992.4,470.0 993.6,600.0 994.6,690.0 995.6,694.0 996.5,697.0 997.4,707.0 998.6,710.0 1003.5,710.2" fill="none" stroke="#4a4a4a" stroke-width="1.4" stroke-linejoin="round" stroke-linecap="round" />
<polyline points="555.8,654.4 556.2,654.4 556.6,654.4 557.0,654.4 557.4,654.4 557.8,654.4 558.2,654.4 558.6,654.4 559.0,654.4 559.4,654.4 559.8,654.4 560.2,654.4 560.6,654.4 561.0,654.4 561.4,654.4 561.8,654.3 562.2,654.3 562.6,654.3 563.0,654.3 563.4,654.3 563.8,654.3 564.2,654.3 564.6,654.3 565.0,654.3 565.4,654.3 565.8,654.3 566.2,654.3 566.6,654.3 567.0,654.3 567.4,654.3 567.8,654.3 568.2,654.3 568.6,654.3 569.0,654.3 569.4,654.2 569.8,654.2 570.2,654.2 570.6,654.2 571.0,654.2 571.4,654.2 571.8,654.2 572.2,654.2 572.6,654.2 573.0,654.2 573.4,654.2 573.8,654.2 574.2,654.1 574.6,654.1 575.0,654.1 575.4,654.1 575.8,654.1 576.2,654.1 576.6,654.1 577.0,654.0 577.4,654.0 577.8,654.0 578.2,654.0 578.6,654.0 579.0,654.0 579.4,653.9 579.8,653.9 580.2,653.9 580.6,653.9 581.0,653.9 581.4,653.8 581.8,653.8 582.2,653.8 582.6,653.7 583.0,653.7 583.4,653.7 583.8,653.6 584.2,653.6 584.6,653.5 585.0,653.5 585.4,653.4 585.8,653.4 586.2,653.3 586.6,653.2 587.0,653.2 587.4,653.1 587.8,653.0 588.2,652.9 588.6,652.7 589.0,652.6 589.4,652.4 589.8,652.3 590.2,652.1 590.6,651.8 591.0,651.5 591.4,651.2 591.8,650.8 592.2,650.4 592.6,649.8 593.0,649.1 593.4,648.2 593.8,647.1 594.2,645.8 594.6,644.0 595.0,641.8 595.4,639.1 595.8,635.9 596.2,632.5 596.6,629.6 597.0,628.0 597.4,628.5 597.8,630.8 598.2,634.0 598.6,637.2 599.0,640.1 599.4,642.5 599.8,644.3 600.2,645.8 600.6,646.9 601.0,647.7 601.4,648.4 601.8,648.9 602.2,649.3 602.6,649.6 603.0,649.8 603.4,649.9 603.8,650.0 604.2,650.1 604.6,650.0 605.0,650.0 605.4,649.9 605.8,649.7 606.2,649.5 606.6,649.3 607.0,649.0 607.4,648.7 607.8,648.2 608.2,647.7 608.6,647.1 609.0,646.4 609.4,645.5 609.8,644.5 610.2,643.2 610.6,641.6 611.0,639.7 611.4,637.3 611.8,634.3 612.2,630.4 612.6,625.5 613.0,619.3 613.4,611.6 613.8,602.3 614.2,592.0 614.6,582.6 615.0,576.6 615.4,576.6 615.8,582.5 616.2,591.9 616.6,602.0 617.0,611.3 617.4,619.0 617.8,625.1 618.2,630.0 618.6,633.7 619.0,636.7 619.4,639.0 619.8,640.9 620.2,642.3 620.6,643.5 621.0,644.5 621.4,645.2 621.8,645.8 622.2,646.3 622.6,646.7 623.0,646.9 623.4,647.1 623.8,647.2 624.2,647.2 624.6,647.2 625.0,647.0 625.4,646.8 625.8,646.5 626.2,646.1 626.6,645.5 627.0,644.9 627.4,644.0 627.8,643.0 628.2,641.6 628.6,640.0 629.0,637.9 629.4,635.3 629.8,632.0 630.2,627.7 630.6,622.2 631.0,615.3 631.4,606.8 631.8,597.0 632.2,586.9 632.6,578.9 633.0,575.8 633.4,579.0 633.8,587.0 634.2,597.2 634.6,607.1 635.0,615.6 635.4,622.6 635.8,628.1 636.2,632.5 636.6,635.9 637.0,638.6 637.4,640.7 637.8,642.4 638.2,643.9 638.6,645.0 639.0,646.0 639.4,646.8 639.8,647.4 640.2,648.0 640.6,648.4 641.0,648.8 641.4,649.2 641.8,649.4 642.2,649.6 642.6,649.8 643.0,649.9 643.4,650.0 643.8,650.0 644.2,650.0 644.6,649.9 645.0,649.8 645.4,649.6 645.8,649.3 646.2,649.0 646.6,648.5 647.0,647.9 647.4,647.1 647.8,646.1 648.2,644.7 648.6,643.0 649.0,640.7 649.4,638.0 649.8,634.8 650.2,631.5 650.6,628.9 651.0,627.9 651.4,629.0 651.8,631.7 652.2,635.1 652.6,638.4 653.0,641.2 653.4,643.5 653.8,645.4 654.2,646.8 654.6,648.0 655.0,648.9 655.4,649.6 655.8,650.2 656.2,650.7 656.6,651.1 657.0,651.5 657.4,651.8 657.8,652.0 658.2,652.2 658.6,652.4 659.0,652.6 659.4,652.7 659.8,652.8 660.2,652.9 660.6,653.0 661.0,653.1 661.4,653.2 661.8,653.3 662.2,653.3 662.6,653.4 663.0,653.5 663.4,653.5 663.8,653.6 664.2,653.6 664.6,653.7 665.0,653.7 665.4,653.7 665.8,653.8 666.2,653.8 666.6,653.8 667.0,653.8 667.4,653.9 667.8,653.9 668.2,653.9 668.6,653.9 669.0,654.0 669.4,654.0 669.8,654.0 670.2,654.0 670.6,654.0 671.0,654.0 671.4,654.1 671.8,654.1 672.2,654.1 672.6,654.1 673.0,654.1 673.4,654.1 673.8,654.1 674.2,654.1 674.6,654.2 675.0,654.2 675.4,654.2 675.8,654.2 676.2,654.2 676.6,654.2 677.0,654.2 677.4,654.2 677.8,654.2 678.2,654.2 678.6,654.2 679.0,654.3 679.4,654.3 679.8,654.3 680.2,654.3 680.6,654.3 681.0,654.3 681.4,654.3 681.8,654.3 682.2,654.3 682.6,654.3 683.0,654.3 683.4,654.3 683.8,654.3 684.2,654.3 684.6,654.3 685.0,654.3 685.4,654.3 685.8,654.3 686.2,654.3 686.6,654.4 687.0,654.4 687.4,654.4 687.8,654.4 688.2,654.4 688.6,654.4 689.0,654.4 689.4,654.4 689.8,654.4 690.2,654.4 690.6,654.4 691.0,654.4 691.4,654.4 691.8,654.4 692.2,654.4 692.6,654.4 693.0,654.4 693.4,654.4 693.8,654.4 694.2,654.4" fill="none" stroke="#333" stroke-width="2.0" stroke-linejoin="round" stroke-linecap="round" />
<line x1="555.8" y1="662.3" x2="694.4" y2="662.3" stroke="#333" stroke-width="2.2" />
<polyline points="833.5,656.4 833.9,656.4 834.3,656.4 834.7,656.4 835.1,656.4 835.5,656.4 835.9,656.4 836.3,656.4 836.7,656.4 837.1,656.4 837.5,656.4 837.9,656.4 838.3,656.4 838.7,656.4 839.1,656.4 839.5,656.4 839.9,656.3 840.3,656.3 840.7,656.3 841.1,656.3 841.5,656.3 841.9,656.3 842.3,656.3 842.7,656.3 843.1,656.3 843.5,656.3 843.9,656.3 844.3,656.3 844.7,656.3 845.1,656.2 845.5,656.2 845.9,656.2 846.3,656.2 846.7,656.2 847.1,656.2 847.5,656.2 847.9,656.2 848.3,656.2 848.7,656.2 849.1,656.1 849.5,656.1 849.9,656.1 850.3,656.1 850.7,656.1 851.1,656.1 851.5,656.1 851.9,656.1 852.3,656.0 852.7,656.0 853.1,656.0 853.5,656.0 853.9,656.0 854.3,656.0 854.7,655.9 855.1,655.9 855.5,655.9 855.9,655.9 856.3,655.9 856.7,655.9 857.1,655.8 857.5,655.8 857.9,655.8 858.3,655.8 858.7,655.7 859.1,655.7 859.5,655.7 859.9,655.7 860.3,655.6 860.7,655.6 861.1,655.6 861.5,655.5 861.9,655.5 862.3,655.5 862.7,655.4 863.1,655.4 863.5,655.4 863.9,655.3 864.3,655.3 864.7,655.2 865.1,655.2 865.5,655.1 865.9,655.1 866.3,655.0 866.7,655.0 867.1,654.9 867.5,654.9 867.9,654.8 868.3,654.7 868.7,654.6 869.1,654.6 869.5,654.5 869.9,654.4 870.3,654.3 870.7,654.2 871.1,654.1 871.5,654.0 871.9,653.9 872.3,653.8 872.7,653.6 873.1,653.5 873.5,653.3 873.9,653.2 874.3,653.0 874.7,652.8 875.1,652.6 875.5,652.4 875.9,652.1 876.3,651.9 876.7,651.6 877.1,651.3 877.5,651.0 877.9,650.6 878.3,650.2 878.7,649.7 879.1,649.2 879.5,648.7 879.9,648.1 880.3,647.4 880.7,646.6 881.1,645.8 881.5,644.8 881.9,643.7 882.3,642.4 882.7,641.0 883.1,639.4 883.5,637.5 883.9,635.3 884.3,632.7 884.7,629.8 885.1,626.3 885.5,622.3 885.9,617.7 886.3,612.4 886.7,606.4 887.1,599.9 887.5,593.1 887.9,586.4 888.3,580.5 888.7,576.1 889.1,574.1 889.5,574.8 889.9,578.0 890.3,583.1 890.7,589.5 891.1,596.2 891.5,602.9 891.9,609.1 892.3,614.7 892.7,619.6 893.1,623.8 893.5,627.5 893.9,630.6 894.3,633.3 894.7,635.6 895.1,637.6 895.5,639.3 895.9,640.8 896.3,642.0 896.7,643.1 897.1,644.1 897.5,644.9 897.9,645.6 898.3,646.3 898.7,646.8 899.1,647.3 899.5,647.7 899.9,648.1 900.3,648.4 900.7,648.6 901.1,648.8 901.5,649.0 901.9,649.2 902.3,649.3 902.7,649.4 903.1,649.4 903.5,649.4 903.9,649.4 904.3,649.3 904.7,649.3 905.1,649.1 905.5,649.0 905.9,648.8 906.3,648.6 906.7,648.3 907.1,648.0 907.5,647.6 907.9,647.2 908.3,646.7 908.7,646.1 909.1,645.5 909.5,644.7 909.9,643.8 910.3,642.9 910.7,641.7 911.1,640.4 911.5,638.9 911.9,637.1 912.3,635.1 912.7,632.7 913.1,629.9 913.5,626.6 913.9,622.8 914.3,618.4 914.7,613.4 915.1,607.6 915.5,601.3 915.9,594.5 916.3,587.8 916.7,581.7 917.1,577.0 917.5,574.4 917.9,574.4 918.3,577.0 918.7,581.8 919.1,588.0 919.5,594.8 919.9,601.6 920.3,608.0 920.7,613.8 921.1,618.9 921.5,623.4 921.9,627.2 922.3,630.5 922.7,633.4 923.1,635.8 923.5,638.0 923.9,639.8 924.3,641.4 924.7,642.8 925.1,644.0 925.5,645.0 925.9,646.0 926.3,646.8 926.7,647.6 927.1,648.2 927.5,648.8 927.9,649.4 928.3,649.8 928.7,650.3 929.1,650.7 929.5,651.0 929.9,651.4 930.3,651.7 930.7,651.9 931.1,652.2 931.5,652.4 931.9,652.6 932.3,652.9 932.7,653.0 933.1,653.2 933.5,653.4 933.9,653.5 934.3,653.7 934.7,653.8 935.1,653.9 935.5,654.0 935.9,654.1 936.3,654.2 936.7,654.3 937.1,654.4 937.5,654.5 937.9,654.6 938.3,654.7 938.7,654.7 939.1,654.8 939.5,654.9 939.9,654.9 940.3,655.0 940.7,655.0 941.1,655.1 941.5,655.1 941.9,655.2 942.3,655.2 942.7,655.3 943.1,655.3 943.5,655.4 943.9,655.4 944.3,655.4 944.7,655.5 945.1,655.5 945.5,655.5 945.9,655.6 946.3,655.6 946.7,655.6 947.1,655.7 947.5,655.7 947.9,655.7 948.3,655.7 948.7,655.8 949.1,655.8 949.5,655.8 949.9,655.8 950.3,655.9 950.7,655.9 951.1,655.9 951.5,655.9 951.9,655.9 952.3,656.0 952.7,656.0 953.1,656.0 953.5,656.0 953.9,656.0 954.3,656.0 954.7,656.0 955.1,656.1 955.5,656.1 955.9,656.1 956.3,656.1 956.7,656.1 957.1,656.1 957.5,656.1 957.9,656.2 958.3,656.2 958.7,656.2 959.1,656.2 959.5,656.2 959.9,656.2 960.3,656.2 960.7,656.2 961.1,656.2 961.5,656.2 961.9,656.3 962.3,656.3 962.7,656.3 963.1,656.3 963.5,656.3 963.9,656.3 964.3,656.3 964.7,656.3 965.1,656.3 965.5,656.3 965.9,656.3 966.3,656.3 966.7,656.3 967.1,656.3 967.5,656.4 967.9,656.4 968.3,656.4 968.7,656.4 969.1,656.4 969.5,656.4 969.9,656.4 970.3,656.4 970.7,656.4 971.1,656.4 971.5,656.4 971.9,656.4" fill="none" stroke="#333" stroke-width="2.0" stroke-linejoin="round" stroke-linecap="round" />
<line x1="833.5" y1="662.8" x2="972" y2="662.8" stroke="#333" stroke-width="2.2" />
<line x1="556.035" y1="662.3" x2="556.035" y2="664" stroke="#333" stroke-width="1" />
<line x1="561.3175" y1="662.3" x2="561.3175" y2="664" stroke="#333" stroke-width="1" />
<line x1="566.6" y1="662.3" x2="566.6" y2="665" stroke="#333" stroke-width="1" />
<line x1="571.8825" y1="662.3" x2="571.8825" y2="664" stroke="#333" stroke-width="1" />
<line x1="577.1650000000001" y1="662.3" x2="577.1650000000001" y2="664" stroke="#333" stroke-width="1" />
<line x1="582.4475" y1="662.3" x2="582.4475" y2="664" stroke="#333" stroke-width="1" />
<line x1="587.73" y1="662.3" x2="587.73" y2="665" stroke="#333" stroke-width="1" />
<line x1="593.0125" y1="662.3" x2="593.0125" y2="664" stroke="#333" stroke-width="1" />
<line x1="598.2950000000001" y1="662.3" x2="598.2950000000001" y2="664" stroke="#333" stroke-width="1" />
<line x1="603.5775" y1="662.3" x2="603.5775" y2="664" stroke="#333" stroke-width="1" />
<line x1="608.86" y1="662.3" x2="608.86" y2="665" stroke="#333" stroke-width="1" />
<line x1="614.1425" y1="662.3" x2="614.1425" y2="664" stroke="#333" stroke-width="1" />
<line x1="619.4250000000001" y1="662.3" x2="619.4250000000001" y2="664" stroke="#333" stroke-width="1" />
<line x1="624.7075" y1="662.3" x2="624.7075" y2="664" stroke="#333" stroke-width="1" />
<line x1="629.99" y1="662.3" x2="629.99" y2="665" stroke="#333" stroke-width="1" />
<line x1="635.2725" y1="662.3" x2="635.2725" y2="664" stroke="#333" stroke-width="1" />
<line x1="640.5550000000001" y1="662.3" x2="640.5550000000001" y2="664" stroke="#333" stroke-width="1" />
<line x1="645.8375" y1="662.3" x2="645.8375" y2="664" stroke="#333" stroke-width="1" />
<line x1="651.12" y1="662.3" x2="651.12" y2="665" stroke="#333" stroke-width="1" />
<line x1="656.4025" y1="662.3" x2="656.4025" y2="664" stroke="#333" stroke-width="1" />
<line x1="661.6850000000001" y1="662.3" x2="661.6850000000001" y2="664" stroke="#333" stroke-width="1" />
<line x1="666.9675" y1="662.3" x2="666.9675" y2="664" stroke="#333" stroke-width="1" />
<line x1="672.25" y1="662.3" x2="672.25" y2="665" stroke="#333" stroke-width="1" />
<line x1="677.5325" y1="662.3" x2="677.5325" y2="664" stroke="#333" stroke-width="1" />
<line x1="682.815" y1="662.3" x2="682.815" y2="664" stroke="#333" stroke-width="1" />
<line x1="688.0975" y1="662.3" x2="688.0975" y2="664" stroke="#333" stroke-width="1" />
<line x1="693.38" y1="662.3" x2="693.38" y2="665" stroke="#333" stroke-width="1" />
<text x="564.3" y="671.8" font-size="8.6" text-anchor="middle" fill="#1a1a1a" font-weight="normal" stroke="#1a1a1a" stroke-width="0.25">5.14</text>
<text x="585.6" y="671.8" font-size="8.6" text-anchor="middle" fill="#1a1a1a" font-weight="normal" stroke="#1a1a1a" stroke-width="0.25">5.12</text>
<text x="607" y="671.8" font-size="8.6" text-anchor="middle" fill="#1a1a1a" font-weight="normal" stroke="#1a1a1a" stroke-width="0.25">5.10</text>
<text x="628.4" y="671.8" font-size="8.6" text-anchor="middle" fill="#1a1a1a" font-weight="normal" stroke="#1a1a1a" stroke-width="0.25">5.08</text>
<text x="650.6" y="671.8" font-size="8.6" text-anchor="middle" fill="#1a1a1a" font-weight="normal" stroke="#1a1a1a" stroke-width="0.25">5.06</text>
<text x="671.7" y="671.8" font-size="8.6" text-anchor="middle" fill="#1a1a1a" font-weight="normal" stroke="#1a1a1a" stroke-width="0.25">5.04</text>
<text x="695" y="671.8" font-size="8.8" text-anchor="middle" fill="#1a1a1a" font-weight="normal" stroke="#1a1a1a" stroke-width="0.25">ppm</text>
<text x="0" y="0" font-size="9.6" fill="#222" textLength="17.8" lengthAdjust="spacingAndGlyphs" transform="translate(600.6,547.2) rotate(-90)">5.10</text>
<line x1="597.1" y1="551" x2="597.1" y2="564.6" stroke="#333" stroke-width="2" />
<line x1="597.1" y1="621.5" x2="597.1" y2="626.4" stroke="#333" stroke-width="2" />
<text x="0" y="0" font-size="9.6" fill="#222" textLength="17.8" lengthAdjust="spacingAndGlyphs" transform="translate(618.7,547.2) rotate(-90)">5.08</text>
<line x1="615.2" y1="551" x2="615.2" y2="564.6" stroke="#333" stroke-width="2" />
<line x1="615.2" y1="569.5" x2="615.2" y2="573.2" stroke="#333" stroke-width="2" />
<text x="0" y="0" font-size="9.6" fill="#222" textLength="17.8" lengthAdjust="spacingAndGlyphs" transform="translate(636.5,547.2) rotate(-90)">5.06</text>
<line x1="633" y1="551" x2="633" y2="564.6" stroke="#333" stroke-width="2" />
<line x1="633" y1="569.5" x2="633" y2="573.2" stroke="#333" stroke-width="2" />
<text x="0" y="0" font-size="9.6" fill="#222" textLength="17.8" lengthAdjust="spacingAndGlyphs" transform="translate(654.5,547.2) rotate(-90)">5.04</text>
<line x1="651" y1="551" x2="651" y2="564.6" stroke="#333" stroke-width="2" />
<line x1="651" y1="621.5" x2="651" y2="626.4" stroke="#333" stroke-width="2" />
<line x1="833.5" y1="662.8" x2="833.5" y2="665.5" stroke="#333" stroke-width="1" />
<line x1="840.06" y1="662.8" x2="840.06" y2="664.5" stroke="#333" stroke-width="1" />
<line x1="846.62" y1="662.8" x2="846.62" y2="664.5" stroke="#333" stroke-width="1" />
<line x1="853.1800000000001" y1="662.8" x2="853.1800000000001" y2="664.5" stroke="#333" stroke-width="1" />
<line x1="859.74" y1="662.8" x2="859.74" y2="664.5" stroke="#333" stroke-width="1" />
<line x1="866.3" y1="662.8" x2="866.3" y2="665.5" stroke="#333" stroke-width="1" />
<line x1="872.86" y1="662.8" x2="872.86" y2="664.5" stroke="#333" stroke-width="1" />
<line x1="879.4200000000001" y1="662.8" x2="879.4200000000001" y2="664.5" stroke="#333" stroke-width="1" />
<line x1="885.98" y1="662.8" x2="885.98" y2="664.5" stroke="#333" stroke-width="1" />
<line x1="892.54" y1="662.8" x2="892.54" y2="664.5" stroke="#333" stroke-width="1" />
<line x1="899.1" y1="662.8" x2="899.1" y2="665.5" stroke="#333" stroke-width="1" />
<line x1="905.6600000000001" y1="662.8" x2="905.6600000000001" y2="664.5" stroke="#333" stroke-width="1" />
<line x1="912.22" y1="662.8" x2="912.22" y2="664.5" stroke="#333" stroke-width="1" />
<line x1="918.78" y1="662.8" x2="918.78" y2="664.5" stroke="#333" stroke-width="1" />
<line x1="925.34" y1="662.8" x2="925.34" y2="664.5" stroke="#333" stroke-width="1" />
<line x1="931.9000000000001" y1="662.8" x2="931.9000000000001" y2="665.5" stroke="#333" stroke-width="1" />
<line x1="938.46" y1="662.8" x2="938.46" y2="664.5" stroke="#333" stroke-width="1" />
<line x1="945.02" y1="662.8" x2="945.02" y2="664.5" stroke="#333" stroke-width="1" />
<line x1="951.58" y1="662.8" x2="951.58" y2="664.5" stroke="#333" stroke-width="1" />
<line x1="958.1400000000001" y1="662.8" x2="958.1400000000001" y2="664.5" stroke="#333" stroke-width="1" />
<line x1="964.7" y1="662.8" x2="964.7" y2="665.5" stroke="#333" stroke-width="1" />
<line x1="971.26" y1="662.8" x2="971.26" y2="664.5" stroke="#333" stroke-width="1" />
<text x="865.7" y="674.7" font-size="10" text-anchor="middle" fill="#222" font-weight="normal" >1.68</text>
<text x="899.1" y="674.7" font-size="10" text-anchor="middle" fill="#222" font-weight="normal" >1.66</text>
<text x="931.3" y="674.7" font-size="10" text-anchor="middle" fill="#222" font-weight="normal" >1.64</text>
<text x="965.4" y="674.7" font-size="10" text-anchor="middle" fill="#222" font-weight="normal" >ppm</text>
<text x="0" y="0" font-size="10" fill="#222" textLength="19.2" lengthAdjust="spacingAndGlyphs" transform="translate(892.8,549.2) rotate(-90)">1.65</text>
<line x1="889.2" y1="549.5" x2="889.2" y2="565.8" stroke="#333" stroke-width="2" />
<line x1="889.2" y1="568" x2="889.2" y2="572" stroke="#333" stroke-width="2" />
<text x="0" y="0" font-size="10" fill="#222" textLength="19.2" lengthAdjust="spacingAndGlyphs" transform="translate(921.3,549.2) rotate(-90)">1.63</text>
<line x1="917.7" y1="549.5" x2="917.7" y2="565.8" stroke="#333" stroke-width="2" />
<line x1="917.7" y1="568" x2="917.7" y2="572" stroke="#333" stroke-width="2" />
<path d="M523.4,725.3 L523.4,730.4 L546.2,741.8 M578.2,725.3 L578.2,730.4 L554.7,741.8 M546.2,741.8 L546.2,765.7 M554.7,741.8 L554.7,765.7" fill="none" stroke="#555" stroke-width="1.2"/>
<text x="0" y="0" font-size="10.5" fill="#2a2a2a" textLength="34.6" lengthAdjust="spacingAndGlyphs" transform="translate(531.0,771.3) rotate(-90)">Integral</text>
<text x="0" y="0" font-size="11" fill="#2a2a2a" textLength="30.0" lengthAdjust="spacingAndGlyphs" transform="translate(554.2,771.4) rotate(-90)">1.7867</text>
<path d="M969.3,722.4 L969.3,728 L982.5,738.8 M1004.6,722.4 L1004.6,728 L992,738.8 M982.5,738.8 L982.5,768 M992,738.8 L992,764" fill="none" stroke="#555" stroke-width="1.2"/>
<text x="0" y="0" font-size="11" fill="#2a2a2a" textLength="30.5" lengthAdjust="spacingAndGlyphs" transform="translate(990.2,768.5) rotate(-90)">5.9276</text>
<line x1="524" y1="785.2" x2="1004.4" y2="783.4" stroke="#777" stroke-width="1.3" />
<line x1="546.7" y1="785.1148750000001" x2="546.7" y2="788.3148750000001" stroke="#777" stroke-width="1.3" />
<line x1="612.8800000000001" y1="784.8667" x2="612.8800000000001" y2="788.0667000000001" stroke="#777" stroke-width="1.3" />
<text x="612.8800000000001" y="799.6" font-size="12.5" text-anchor="middle" fill="#1a1a1a" font-weight="normal" >4.5</text>
<line x1="679.0600000000001" y1="784.6185250000001" x2="679.0600000000001" y2="787.8185250000001" stroke="#777" stroke-width="1.3" />
<text x="679.0600000000001" y="799.6" font-size="12.5" text-anchor="middle" fill="#1a1a1a" font-weight="normal" >4.0</text>
<line x1="745.24" y1="784.37035" x2="745.24" y2="787.5703500000001" stroke="#777" stroke-width="1.3" />
<text x="745.24" y="799.6" font-size="12.5" text-anchor="middle" fill="#1a1a1a" font-weight="normal" >3.5</text>
<line x1="811.4200000000001" y1="784.1221750000001" x2="811.4200000000001" y2="787.3221750000001" stroke="#777" stroke-width="1.3" />
<text x="811.4200000000001" y="799.6" font-size="12.5" text-anchor="middle" fill="#1a1a1a" font-weight="normal" >3.0</text>
<line x1="877.6000000000001" y1="783.874" x2="877.6000000000001" y2="787.0740000000001" stroke="#777" stroke-width="1.3" />
<text x="877.6000000000001" y="799.6" font-size="12.5" text-anchor="middle" fill="#1a1a1a" font-weight="normal" >2.5</text>
<line x1="943.7800000000001" y1="783.6258250000001" x2="943.7800000000001" y2="786.8258250000001" stroke="#777" stroke-width="1.3" />
<text x="943.7800000000001" y="799.6" font-size="12.5" text-anchor="middle" fill="#1a1a1a" font-weight="normal" >2.0</text>
<text x="529.6" y="801.5" font-size="12.6" text-anchor="middle" fill="#1a1a1a" font-weight="normal" >ppm</text>
</svg></body></html>
